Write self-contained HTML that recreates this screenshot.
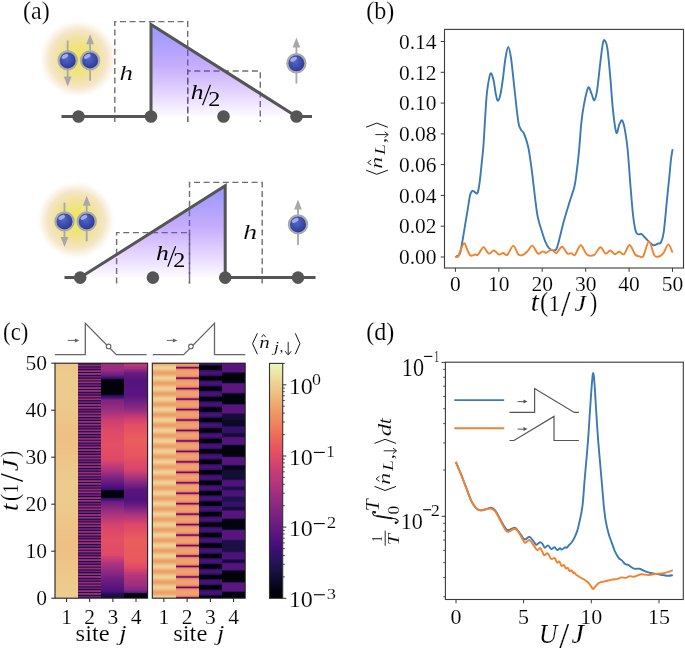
<!DOCTYPE html><html><head><meta charset="utf-8"><style>html,body{margin:0;padding:0;background:#fff;overflow:hidden}svg{display:block}text{font-family:"Liberation Serif",serif;font-kerning:none}.tk{stroke:#fff;stroke-width:0.15px}</style></head><body><svg style="will-change:transform" width="685" height="650" viewBox="0 0 685 650"><defs><radialGradient id="glow" cx="0.5" cy="0.5" r="0.5">
<stop offset="0" stop-color="#efe65a"/><stop offset="0.28" stop-color="#f0e476"/>
<stop offset="0.5" stop-color="#f1e29e"/><stop offset="0.72" stop-color="#f3e3c0" stop-opacity="0.9"/><stop offset="0.86" stop-color="#f7ecd8" stop-opacity="0.55"/><stop offset="1" stop-color="#ffffff" stop-opacity="0"/></radialGradient>
<radialGradient id="ball" cx="0.42" cy="0.38" r="0.62">
<stop offset="0" stop-color="#5468c8"/><stop offset="0.6" stop-color="#3a4aa9"/><stop offset="0.88" stop-color="#2f3d94"/><stop offset="1" stop-color="#27327a"/></radialGradient>
<linearGradient id="tri1" x1="0" y1="0" x2="0" y2="1">
<stop offset="0" stop-color="#8a8aff"/><stop offset="0.45" stop-color="#c0a4fb"/><stop offset="0.78" stop-color="#e6d6fd"/><stop offset="1" stop-color="#fdfbff"/></linearGradient>
<clipPath id="ctri1"><path d="M151,24.5 L296.5,116.5 L151,116.5 Z"/></clipPath>
<clipPath id="ctri2"><path d="M80.2,277.6 L225.2,185.8 L225.2,277.6 Z"/></clipPath>
</defs><rect width="685" height="650" fill="#fff"/><text transform="matrix(0.24071,0,0,0.25366,23.04,18.50)" font-size="100" fill="#000" style="stroke:#fff;stroke-width:0.61px">(a)</text>
<circle cx="78.3" cy="58.8" r="40" fill="url(#glow)"/>
<path d="M114.8,122 V21.6 H187.7 V122" fill="none" stroke="#6e6e6e" stroke-width="1.4" stroke-dasharray="6 3.6"/>
<path d="M187.7,122 V71 H260.3 V122" fill="none" stroke="#6e6e6e" stroke-width="1.4" stroke-dasharray="6 3.6"/>
<path d="M151,24.5 L296.5,116.5 L151,116.5 Z" fill="url(#tri1)" opacity="0.9"/>
<g clip-path="url(#ctri1)"><path d="M114.8,122 V21.6 H187.7 V122" fill="none"  stroke-width="1.4" stroke-dasharray="6 3.6" stroke="#5f5192" opacity="0.85"/><path d="M187.7,122 V71 H260.3 V122" fill="none"  stroke-width="1.4" stroke-dasharray="6 3.6" stroke="#5f5192" opacity="0.85"/></g>
<path d="M61.5,116.5 H151 M296.5,116.5 H312" stroke="#555" stroke-width="3"/>
<path d="M151,116.5 V24.5 L296.5,116.5" fill="none" stroke="#555" stroke-width="3" stroke-linejoin="miter"/>
<circle cx="78.5" cy="116.5" r="6.3" fill="#555"/>
<circle cx="151.0" cy="116.5" r="6.3" fill="#555"/>
<circle cx="223.5" cy="116.5" r="6.3" fill="#555"/>
<circle cx="296.5" cy="116.5" r="6.3" fill="#555"/>
<line x1="67.7" y1="40.5" x2="67.7" y2="78.6" stroke="#a8a8a8" stroke-width="1.8"/><path d="M67.7,86.6 L63.8,76.6 L71.6,76.6 Z" fill="#a8a8a8"/><circle cx="67.7" cy="60.4" r="9.1" fill="url(#ball)" stroke="#aaaaaa" stroke-width="2.2"/><ellipse cx="64.9" cy="56.4" rx="3.6" ry="1.9" fill="#aab6ec" opacity="0.9" transform="rotate(-28 64.9 56.4)"/>
<line x1="90.1" y1="80.7" x2="90.1" y2="42.2" stroke="#a8a8a8" stroke-width="1.8"/><path d="M90.1,34.2 L86.2,44.2 L94.0,44.2 Z" fill="#a8a8a8"/><circle cx="90.1" cy="60.4" r="9.1" fill="url(#ball)" stroke="#aaaaaa" stroke-width="2.2"/><ellipse cx="87.3" cy="56.4" rx="3.6" ry="1.9" fill="#aab6ec" opacity="0.9" transform="rotate(-28 87.3 56.4)"/>
<line x1="296.4" y1="83.6" x2="296.4" y2="45.4" stroke="#a8a8a8" stroke-width="1.8"/><path d="M296.4,37.4 L292.5,47.4 L300.3,47.4 Z" fill="#a8a8a8"/><circle cx="296.4" cy="63.3" r="9.1" fill="url(#ball)" stroke="#aaaaaa" stroke-width="2.2"/><ellipse cx="293.6" cy="59.3" rx="3.6" ry="1.9" fill="#aab6ec" opacity="0.9" transform="rotate(-28 293.6 59.3)"/>
<text transform="matrix(0.26991,0,0,0.21619,119.62,80.00)" font-size="100" font-style="italic" fill="#000" style="stroke:#fff;stroke-width:0.62px">h</text>
<text transform="matrix(0.25570,0,0,0.21763,190.78,98.90)" font-size="100" font-style="italic" fill="#000">h</text><line x1="202.6" y1="105.2" x2="210.4" y2="84.8" stroke="#000" stroke-width="1.15"/><text transform="matrix(0.24197,0,0,0.19936,208.14,105.70)" font-size="100" fill="#000">2</text>
<circle cx="76" cy="220.2" r="40" fill="url(#glow)"/>
<path d="M116.6,283.5 V232.6 H189.5 V283.5" fill="none" stroke="#6e6e6e" stroke-width="1.4" stroke-dasharray="6 3.6"/>
<path d="M189.5,283.5 V182.4 H262.2 V283.5" fill="none" stroke="#6e6e6e" stroke-width="1.4" stroke-dasharray="6 3.6"/>
<path d="M80.2,277.6 L225.2,185.8 L225.2,277.6 Z" fill="url(#tri1)" opacity="0.9"/>
<g clip-path="url(#ctri2)"><path d="M116.6,283.5 V232.6 H189.5 V283.5" fill="none"  stroke-width="1.4" stroke-dasharray="6 3.6" stroke="#5f5192" opacity="0.85"/><path d="M189.5,283.5 V182.4 H262.2 V283.5" fill="none"  stroke-width="1.4" stroke-dasharray="6 3.6" stroke="#5f5192" opacity="0.85"/></g>
<path d="M64.5,277.6 H80.2 M225.2,277.6 H315.5" stroke="#555" stroke-width="3"/>
<path d="M80.2,277.6 L225.2,185.8 V277.6" fill="none" stroke="#555" stroke-width="3" stroke-linejoin="miter"/>
<circle cx="80.2" cy="277.6" r="6.3" fill="#555"/>
<circle cx="152.9" cy="277.6" r="6.3" fill="#555"/>
<circle cx="225.2" cy="277.6" r="6.3" fill="#555"/>
<circle cx="298.0" cy="277.6" r="6.3" fill="#555"/>
<line x1="64.5" y1="202.7" x2="64.5" y2="239.0" stroke="#a8a8a8" stroke-width="1.8"/><path d="M64.5,247.0 L60.6,237.0 L68.4,237.0 Z" fill="#a8a8a8"/><circle cx="64.5" cy="221.4" r="9.1" fill="url(#ball)" stroke="#aaaaaa" stroke-width="2.2"/><ellipse cx="61.7" cy="217.4" rx="3.6" ry="1.9" fill="#aab6ec" opacity="0.9" transform="rotate(-28 61.7 217.4)"/>
<line x1="86.7" y1="241.3" x2="86.7" y2="203.7" stroke="#a8a8a8" stroke-width="1.8"/><path d="M86.7,195.7 L82.8,205.7 L90.6,205.7 Z" fill="#a8a8a8"/><circle cx="86.7" cy="221.4" r="9.1" fill="url(#ball)" stroke="#aaaaaa" stroke-width="2.2"/><ellipse cx="83.9" cy="217.4" rx="3.6" ry="1.9" fill="#aab6ec" opacity="0.9" transform="rotate(-28 83.9 217.4)"/>
<line x1="298.0" y1="244.9" x2="298.0" y2="207.4" stroke="#a8a8a8" stroke-width="1.8"/><path d="M298.0,199.4 L294.1,209.4 L301.9,209.4 Z" fill="#a8a8a8"/><circle cx="298.0" cy="224.4" r="9.1" fill="url(#ball)" stroke="#aaaaaa" stroke-width="2.2"/><ellipse cx="295.2" cy="220.4" rx="3.6" ry="1.9" fill="#aab6ec" opacity="0.9" transform="rotate(-28 295.2 220.4)"/>
<text transform="matrix(0.25570,0,0,0.21763,155.98,260.40)" font-size="100" font-style="italic" fill="#000">h</text><line x1="167.8" y1="266.7" x2="175.6" y2="246.3" stroke="#000" stroke-width="1.15"/><text transform="matrix(0.24197,0,0,0.19936,173.34,267.20)" font-size="100" fill="#000">2</text>
<text transform="matrix(0.28412,0,0,0.21474,242.97,238.80)" font-size="100" font-style="italic" fill="#000" style="stroke:#fff;stroke-width:0.61px">h</text>
<text transform="matrix(0.24116,0,0,0.25366,366.24,18.50)" font-size="100" fill="#000" style="stroke:#fff;stroke-width:0.61px">(b)</text>
<path d="M455.4,257.0 C455.9,256.8 457.5,256.2 458.3,255.5 C459.1,254.8 459.6,254.7 460.2,252.7 C460.8,250.7 461.2,247.8 462.0,243.5 C462.8,239.2 463.9,232.4 464.8,226.8 C465.7,221.2 466.7,215.4 467.6,210.2 C468.5,205.0 469.2,198.6 470.0,195.4 C470.8,192.2 471.5,191.2 472.5,190.8 C473.5,190.4 475.0,192.7 475.9,193.0 C476.8,193.3 477.1,194.4 477.7,192.7 C478.3,190.9 478.9,187.6 479.6,182.5 C480.3,177.4 481.2,168.4 481.8,162.2 C482.4,155.9 482.8,154.7 483.5,145.0 C484.2,135.3 485.3,113.8 486.0,103.9 C486.7,94.0 487.1,90.5 487.9,85.4 C488.7,80.3 489.7,74.3 490.6,73.4 C491.5,72.5 492.6,76.4 493.5,80.0 C494.4,83.6 495.2,91.5 496.0,95.0 C496.8,98.5 497.2,100.9 498.0,100.7 C498.8,100.5 499.7,97.8 500.5,94.0 C501.3,90.2 502.2,84.0 503.0,78.0 C503.8,72.0 504.6,63.2 505.5,58.0 C506.4,52.8 507.3,47.0 508.2,47.0 C509.1,47.0 509.9,50.7 511.0,58.0 C512.1,65.3 513.5,80.3 514.7,91.0 C515.9,101.7 517.3,115.8 518.4,122.3 C519.5,128.8 520.2,127.9 521.1,129.8 C522.0,131.7 522.8,131.1 523.9,133.5 C525.0,135.9 526.6,140.9 527.6,144.5 C528.6,148.1 528.8,149.7 529.6,154.8 C530.4,159.9 531.5,167.7 532.4,175.1 C533.3,182.5 534.3,192.0 535.2,199.1 C536.1,206.2 536.8,212.4 537.9,217.6 C539.0,222.8 540.4,226.5 541.6,230.5 C542.8,234.5 544.1,238.7 545.3,241.6 C546.5,244.5 547.6,246.6 549.0,248.1 C550.4,249.6 552.4,250.3 553.6,250.5 C554.8,250.7 555.5,250.8 556.4,249.0 C557.3,247.2 558.0,244.4 559.2,239.8 C560.4,235.2 562.1,227.5 563.8,221.3 C565.5,215.1 567.5,208.7 569.3,202.8 C571.1,197.0 573.3,191.4 574.5,186.2 C575.7,181.0 576.0,177.2 576.7,171.4 C577.5,165.6 578.2,159.3 579.0,151.1 C579.8,142.9 580.5,130.3 581.4,122.4 C582.2,114.5 583.0,109.7 584.1,103.9 C585.2,98.1 587.0,89.3 588.2,87.6 C589.4,85.9 590.5,91.6 591.5,93.7 C592.5,95.8 593.4,100.7 594.3,100.2 C595.2,99.8 596.1,96.5 597.0,91.0 C597.9,85.5 598.9,74.7 599.8,67.0 C600.7,59.3 601.8,49.3 602.6,44.8 C603.4,40.3 603.8,39.6 604.6,40.2 C605.4,40.8 606.5,42.5 607.4,48.5 C608.3,54.5 609.3,66.0 610.2,76.2 C611.1,86.4 611.9,100.0 612.9,109.4 C613.9,118.8 615.2,130.0 616.3,132.5 C617.4,135.0 618.4,126.2 619.4,124.2 C620.4,122.2 621.3,119.6 622.2,120.5 C623.1,121.4 624.0,124.9 624.9,129.8 C625.8,134.7 626.8,140.6 627.7,150.0 C628.6,159.4 629.6,175.5 630.5,186.2 C631.4,196.8 632.1,206.5 632.9,213.9 C633.7,221.3 634.7,227.1 635.5,230.5 C636.3,233.9 636.9,233.6 637.9,234.2 C638.9,234.8 640.4,233.6 641.6,234.2 C642.8,234.8 644.1,236.7 645.3,237.9 C646.5,239.1 647.6,240.4 649.0,241.6 C650.4,242.8 652.1,245.0 653.6,245.3 C655.1,245.6 657.0,244.0 658.2,243.5 C659.4,243.0 660.1,244.3 661.0,242.5 C661.9,240.7 662.8,238.7 663.7,232.4 C664.6,226.1 665.6,213.9 666.5,204.7 C667.4,195.5 668.5,184.7 669.3,177.0 C670.1,169.3 670.5,163.1 671.1,158.5 C671.7,153.9 672.4,150.8 672.6,149.2" fill="none" stroke="#3a7ab5" stroke-width="1.9" stroke-linejoin="round"/>
<path d="M455.4,257.0 C455.9,256.9 457.4,257.7 458.3,256.4 C459.2,255.1 460.0,251.2 461.0,249.0 C462.0,246.8 463.4,243.1 464.4,243.1 C465.4,243.1 466.0,246.9 467.0,249.0 C468.0,251.1 469.0,254.6 470.3,255.5 C471.6,256.4 473.8,254.6 475.0,254.5 C476.2,254.4 476.8,255.5 477.7,254.9 C478.6,254.3 479.5,252.2 480.5,250.9 C481.5,249.6 482.4,246.8 483.8,247.2 C485.2,247.6 487.1,253.0 488.8,253.6 C490.5,254.2 492.3,250.3 494.0,250.5 C495.7,250.7 497.5,254.1 499.0,254.5 C500.5,254.9 501.8,252.9 503.2,253.0 C504.6,253.1 505.6,256.1 507.3,254.9 C509.0,253.7 511.4,246.0 513.2,245.9 C515.1,245.8 516.8,253.0 518.4,254.5 C520.0,256.0 521.4,255.5 523.0,254.9 C524.6,254.3 526.2,252.4 527.8,250.9 C529.4,249.4 530.7,245.2 532.4,245.7 C534.1,246.1 536.2,252.6 537.9,253.6 C539.6,254.6 541.2,251.6 542.6,251.4 C544.0,251.2 544.7,253.0 546.2,252.7 C547.7,252.4 550.1,249.5 551.8,249.6 C553.5,249.7 554.7,253.6 556.4,253.1 C558.1,252.6 560.1,246.7 562.0,246.8 C563.9,246.9 566.0,252.6 567.5,253.6 C569.0,254.6 570.0,252.9 571.2,253.1 C572.4,253.3 573.3,256.2 574.9,254.9 C576.5,253.6 578.8,245.4 580.8,245.3 C582.8,245.2 584.6,252.9 586.9,254.5 C589.1,256.1 592.0,256.1 594.3,254.9 C596.5,253.7 598.5,247.4 600.4,247.2 C602.3,247.0 603.9,253.0 605.5,253.6 C607.1,254.2 608.7,250.4 610.2,250.5 C611.8,250.6 613.3,254.0 614.8,254.2 C616.3,254.4 617.9,251.8 619.4,251.8 C620.9,251.8 622.3,255.3 624.0,254.2 C625.7,253.1 627.8,244.9 629.6,245.0 C631.5,245.1 633.4,252.6 635.1,254.5 C636.8,256.4 638.3,256.1 639.7,256.4 C641.1,256.6 641.9,258.5 643.4,256.0 C644.9,253.5 647.1,241.7 649.0,241.6 C650.9,241.5 652.7,253.1 654.5,255.5 C656.3,257.9 658.5,256.5 660.0,256.0 C661.5,255.5 662.3,254.6 663.7,252.7 C665.1,250.8 666.9,244.4 668.4,244.4 C669.9,244.4 671.9,251.3 672.6,252.7" fill="none" stroke="#f5822a" stroke-width="1.9" stroke-linejoin="round"/>
<rect x="444.5" y="29.4" width="239.0" height="238.6" fill="none" stroke="#3a3a3a" stroke-width="1.1"/>
<line x1="440.7" y1="257.0" x2="444.5" y2="257.0" stroke="#3a3a3a" stroke-width="1"/>
<text x="436.5" y="264.2" font-size="21.5" text-anchor="end" class="tk">0.00</text>
<line x1="440.7" y1="226.2" x2="444.5" y2="226.2" stroke="#3a3a3a" stroke-width="1"/>
<text x="436.5" y="233.4" font-size="21.5" text-anchor="end" class="tk">0.02</text>
<line x1="440.7" y1="195.4" x2="444.5" y2="195.4" stroke="#3a3a3a" stroke-width="1"/>
<text x="436.5" y="202.6" font-size="21.5" text-anchor="end" class="tk">0.04</text>
<line x1="440.7" y1="164.6" x2="444.5" y2="164.6" stroke="#3a3a3a" stroke-width="1"/>
<text x="436.5" y="171.8" font-size="21.5" text-anchor="end" class="tk">0.06</text>
<line x1="440.7" y1="133.9" x2="444.5" y2="133.9" stroke="#3a3a3a" stroke-width="1"/>
<text x="436.5" y="141.1" font-size="21.5" text-anchor="end" class="tk">0.08</text>
<line x1="440.7" y1="103.1" x2="444.5" y2="103.1" stroke="#3a3a3a" stroke-width="1"/>
<text x="436.5" y="110.3" font-size="21.5" text-anchor="end" class="tk">0.10</text>
<line x1="440.7" y1="72.3" x2="444.5" y2="72.3" stroke="#3a3a3a" stroke-width="1"/>
<text x="436.5" y="79.5" font-size="21.5" text-anchor="end" class="tk">0.12</text>
<line x1="440.7" y1="41.5" x2="444.5" y2="41.5" stroke="#3a3a3a" stroke-width="1"/>
<text x="436.5" y="48.7" font-size="21.5" text-anchor="end" class="tk">0.14</text>
<line x1="455.4" y1="268.0" x2="455.4" y2="271.8" stroke="#3a3a3a" stroke-width="1"/>
<text x="455.4" y="291" font-size="21.5" text-anchor="middle" class="tk">0</text>
<line x1="498.8" y1="268.0" x2="498.8" y2="271.8" stroke="#3a3a3a" stroke-width="1"/>
<text x="498.8" y="291" font-size="21.5" text-anchor="middle" class="tk">10</text>
<line x1="542.2" y1="268.0" x2="542.2" y2="271.8" stroke="#3a3a3a" stroke-width="1"/>
<text x="542.2" y="291" font-size="21.5" text-anchor="middle" class="tk">20</text>
<line x1="585.7" y1="268.0" x2="585.7" y2="271.8" stroke="#3a3a3a" stroke-width="1"/>
<text x="585.7" y="291" font-size="21.5" text-anchor="middle" class="tk">30</text>
<line x1="629.1" y1="268.0" x2="629.1" y2="271.8" stroke="#3a3a3a" stroke-width="1"/>
<text x="629.1" y="291" font-size="21.5" text-anchor="middle" class="tk">40</text>
<line x1="672.5" y1="268.0" x2="672.5" y2="271.8" stroke="#3a3a3a" stroke-width="1"/>
<text x="672.5" y="291" font-size="21.5" text-anchor="middle" class="tk">50</text>
<text transform="matrix(0.29145,0,0,0.26538,530.72,311.24)" font-size="100" font-style="italic" fill="#000" style="stroke:#fff;stroke-width:0.54px">t</text>
<text transform="matrix(0.24529,0,0,0.27240,540.02,311.00)" font-size="100" fill="#000" style="stroke:#fff;stroke-width:0.58px">(</text>
<text transform="matrix(0.22440,0,0,0.23025,548.63,311.00)" font-size="100" fill="#000" style="stroke:#fff;stroke-width:0.66px">1</text>
<text transform="matrix(0.34193,0,0,0.36176,561.10,316.45)" font-size="100" fill="#000" style="stroke:#fff;stroke-width:0.43px">/</text>
<text transform="matrix(0.25867,0,0,0.23625,574.41,311.27)" font-size="100" font-style="italic" fill="#000" style="stroke:#fff;stroke-width:0.61px">J</text>
<text transform="matrix(0.22583,0,0,0.27240,589.77,311.00)" font-size="100" fill="#000" style="stroke:#fff;stroke-width:0.60px">)</text>
<polyline points="366.2,127.2 376.8,123.1 387.8,127.2" fill="none" stroke="#111" stroke-width="1.00" stroke-linejoin="miter"/><line x1="375.4" y1="134.6" x2="387.5" y2="134.6" stroke="#111" stroke-width="0.9"/><polyline points="384.6,131.8 388.3,134.6 384.6,137.4" fill="none" stroke="#111" stroke-width="0.90" stroke-linejoin="miter"/><text transform="matrix(0,-0.20144,0.17132,0,386.17,142.97)" font-size="100" fill="#000" style="stroke:#fff;stroke-width:0.81px">,</text><text transform="matrix(0,-0.19404,0.14203,0,385.10,154.67)" font-size="100" font-style="italic" fill="#000" style="stroke:#fff;stroke-width:0.90px">L</text><text transform="matrix(0,-0.23885,0.16554,0,381.80,168.65)" font-size="100" font-style="italic" fill="#000" style="stroke:#fff;stroke-width:0.75px">n</text><polyline points="371.2,160.0 367.7,162.6 371.2,165.1" fill="none" stroke="#111" stroke-width="0.90" stroke-linejoin="miter"/><polyline points="366.2,170.2 376.8,174.3 387.8,170.2" fill="none" stroke="#111" stroke-width="1.00" stroke-linejoin="miter"/>
<text transform="matrix(0.22799,0,0,0.25145,3.10,339.85)" font-size="100" fill="#000" style="stroke:#fff;stroke-width:0.63px">(c)</text>
<g shape-rendering="crispEdges">
<rect x="55.00" y="363.20" width="23.15" height="3.80" fill="#eec88a"/><rect x="55.00" y="367.00" width="23.15" height="6.00" fill="#edc98c"/><rect x="55.00" y="373.00" width="23.15" height="1.00" fill="#edca8c"/><rect x="55.00" y="374.00" width="23.15" height="26.00" fill="#edcb8e"/><rect x="55.00" y="400.00" width="23.15" height="1.00" fill="#edca8c"/><rect x="55.00" y="401.00" width="23.15" height="6.00" fill="#edc98c"/><rect x="55.00" y="407.00" width="23.15" height="5.00" fill="#eec88a"/><rect x="55.00" y="412.00" width="23.15" height="1.00" fill="#eec68a"/><rect x="55.00" y="413.00" width="23.15" height="5.00" fill="#eec689"/><rect x="55.00" y="418.00" width="23.15" height="6.00" fill="#eec487"/><rect x="55.00" y="424.00" width="23.15" height="9.00" fill="#eec286"/><rect x="55.00" y="433.00" width="23.15" height="13.00" fill="#eec084"/><rect x="55.00" y="446.00" width="23.15" height="9.00" fill="#eec286"/><rect x="55.00" y="455.00" width="23.15" height="6.00" fill="#eec487"/><rect x="55.00" y="461.00" width="23.15" height="5.00" fill="#eec689"/><rect x="55.00" y="466.00" width="23.15" height="1.00" fill="#eec68a"/><rect x="55.00" y="467.00" width="23.15" height="5.00" fill="#eec88a"/><rect x="55.00" y="472.00" width="23.15" height="6.00" fill="#edc98c"/><rect x="55.00" y="478.00" width="23.15" height="1.00" fill="#edca8c"/><rect x="55.00" y="479.00" width="23.15" height="26.00" fill="#edcb8e"/><rect x="55.00" y="505.00" width="23.15" height="1.00" fill="#edca8c"/><rect x="55.00" y="506.00" width="23.15" height="6.00" fill="#edc98c"/><rect x="55.00" y="512.00" width="23.15" height="5.00" fill="#eec88a"/><rect x="55.00" y="517.00" width="23.15" height="1.00" fill="#eec68a"/><rect x="55.00" y="518.00" width="23.15" height="5.00" fill="#eec689"/><rect x="55.00" y="523.00" width="23.15" height="6.00" fill="#eec487"/><rect x="55.00" y="529.00" width="23.15" height="9.00" fill="#eec286"/><rect x="55.00" y="538.00" width="23.15" height="13.00" fill="#eec084"/><rect x="55.00" y="551.00" width="23.15" height="9.00" fill="#eec286"/><rect x="55.00" y="560.00" width="23.15" height="6.00" fill="#eec487"/><rect x="55.00" y="566.00" width="23.15" height="5.00" fill="#eec689"/><rect x="55.00" y="571.00" width="23.15" height="1.00" fill="#eec68a"/><rect x="55.00" y="572.00" width="23.15" height="5.00" fill="#eec88a"/><rect x="55.00" y="577.00" width="23.15" height="6.00" fill="#edc98c"/><rect x="55.00" y="583.00" width="23.15" height="1.00" fill="#edca8c"/><rect x="55.00" y="584.00" width="23.15" height="14.20" fill="#edcb8e"/>
<rect x="78.15" y="363.20" width="23.15" height="1.80" fill="#541c55"/><rect x="78.15" y="365.00" width="23.15" height="1.00" fill="#992d80"/><rect x="78.15" y="366.00" width="23.15" height="1.00" fill="#48194e"/><rect x="78.15" y="367.00" width="23.15" height="1.00" fill="#4f1864"/><rect x="78.15" y="368.00" width="23.15" height="1.00" fill="#701f81"/><rect x="78.15" y="369.00" width="23.15" height="1.00" fill="#271040"/><rect x="78.15" y="370.00" width="23.15" height="1.00" fill="#822871"/><rect x="78.15" y="371.00" width="23.15" height="1.00" fill="#992d80"/><rect x="78.15" y="372.00" width="23.15" height="1.00" fill="#1a0e32"/><rect x="78.15" y="373.00" width="23.15" height="1.00" fill="#992d80"/><rect x="78.15" y="374.00" width="23.15" height="1.00" fill="#8e2a79"/><rect x="78.15" y="375.00" width="23.15" height="1.00" fill="#1f0e39"/><rect x="78.15" y="376.00" width="23.15" height="1.00" fill="#701f81"/><rect x="78.15" y="377.00" width="23.15" height="1.00" fill="#4f1864"/><rect x="78.15" y="378.00" width="23.15" height="1.00" fill="#3d1647"/><rect x="78.15" y="379.00" width="23.15" height="1.00" fill="#992d80"/><rect x="78.15" y="380.00" width="23.15" height="1.00" fill="#541c55"/><rect x="78.15" y="381.00" width="23.15" height="1.00" fill="#5f1f5c"/><rect x="78.15" y="382.00" width="23.15" height="1.00" fill="#992d80"/><rect x="78.15" y="383.00" width="23.15" height="1.00" fill="#3d1647"/><rect x="78.15" y="384.00" width="23.15" height="1.00" fill="#581a6c"/><rect x="78.15" y="385.00" width="23.15" height="1.00" fill="#701f81"/><rect x="78.15" y="386.00" width="23.15" height="1.00" fill="#1f0e39"/><rect x="78.15" y="387.00" width="23.15" height="1.00" fill="#8e2a79"/><rect x="78.15" y="388.00" width="23.15" height="1.00" fill="#992d80"/><rect x="78.15" y="389.00" width="23.15" height="1.00" fill="#1a0e32"/><rect x="78.15" y="390.00" width="23.15" height="1.00" fill="#992d80"/><rect x="78.15" y="391.00" width="23.15" height="1.00" fill="#822871"/><rect x="78.15" y="392.00" width="23.15" height="1.00" fill="#271040"/><rect x="78.15" y="393.00" width="23.15" height="1.00" fill="#701f81"/><rect x="78.15" y="394.00" width="23.15" height="1.00" fill="#47165d"/><rect x="78.15" y="395.00" width="23.15" height="1.00" fill="#48194e"/><rect x="78.15" y="396.00" width="23.15" height="1.00" fill="#992d80"/><rect x="78.15" y="397.00" width="23.15" height="1.00" fill="#48194e"/><rect x="78.15" y="398.00" width="23.15" height="1.00" fill="#6b2263"/><rect x="78.15" y="399.00" width="23.15" height="1.00" fill="#992d80"/><rect x="78.15" y="400.00" width="23.15" height="1.00" fill="#311340"/><rect x="78.15" y="401.00" width="23.15" height="1.00" fill="#601b73"/><rect x="78.15" y="402.00" width="23.15" height="1.00" fill="#701f81"/><rect x="78.15" y="403.00" width="23.15" height="1.00" fill="#170c32"/><rect x="78.15" y="404.00" width="23.15" height="1.00" fill="#992d80"/><rect x="78.15" y="405.00" width="23.15" height="1.00" fill="#8e2a79"/><rect x="78.15" y="406.00" width="23.15" height="1.00" fill="#261139"/><rect x="78.15" y="407.00" width="23.15" height="1.00" fill="#992d80"/><rect x="78.15" y="408.00" width="23.15" height="1.00" fill="#77256a"/><rect x="78.15" y="409.00" width="23.15" height="1.00" fill="#2f1148"/><rect x="78.15" y="410.00" width="23.15" height="1.00" fill="#701f81"/><rect x="78.15" y="411.00" width="23.15" height="1.00" fill="#3f1556"/><rect x="78.15" y="412.00" width="23.15" height="1.00" fill="#541c55"/><rect x="78.15" y="413.00" width="23.15" height="1.00" fill="#992d80"/><rect x="78.15" y="414.00" width="23.15" height="1.00" fill="#3d1647"/><rect x="78.15" y="415.00" width="23.15" height="1.00" fill="#77256a"/><rect x="78.15" y="416.00" width="23.15" height="1.00" fill="#992d80"/><rect x="78.15" y="417.00" width="23.15" height="1.00" fill="#261139"/><rect x="78.15" y="418.00" width="23.15" height="1.00" fill="#681d7a"/><rect x="78.15" y="419.00" width="23.15" height="1.00" fill="#701f81"/><rect x="78.15" y="420.00" width="23.15" height="1.00" fill="#1a0e32"/><rect x="78.15" y="421.00" width="23.15" height="1.00" fill="#992d80"/><rect x="78.15" y="422.00" width="23.15" height="1.00" fill="#822871"/><rect x="78.15" y="423.00" width="23.15" height="1.00" fill="#311340"/><rect x="78.15" y="424.00" width="23.15" height="1.00" fill="#992d80"/><rect x="78.15" y="425.00" width="23.15" height="1.00" fill="#6b2263"/><rect x="78.15" y="426.00" width="23.15" height="1.00" fill="#37134f"/><rect x="78.15" y="427.00" width="23.15" height="1.00" fill="#701f81"/><rect x="78.15" y="428.00" width="23.15" height="1.00" fill="#3f1556"/><rect x="78.15" y="429.00" width="23.15" height="1.00" fill="#5f1f5c"/><rect x="78.15" y="430.00" width="23.15" height="1.00" fill="#992d80"/><rect x="78.15" y="431.00" width="23.15" height="1.00" fill="#311340"/><rect x="78.15" y="432.00" width="23.15" height="1.00" fill="#77256a"/><rect x="78.15" y="433.00" width="23.15" height="1.00" fill="#992d80"/><rect x="78.15" y="434.00" width="23.15" height="1.00" fill="#1a0e32"/><rect x="78.15" y="435.00" width="23.15" height="1.00" fill="#701f81"/><rect x="78.15" y="436.00" width="23.15" height="1.00" fill="#681d7a"/><rect x="78.15" y="437.00" width="23.15" height="1.00" fill="#261139"/><rect x="78.15" y="438.00" width="23.15" height="1.00" fill="#992d80"/><rect x="78.15" y="439.00" width="23.15" height="1.00" fill="#77256a"/><rect x="78.15" y="440.00" width="23.15" height="1.00" fill="#3d1647"/><rect x="78.15" y="441.00" width="23.15" height="1.00" fill="#992d80"/><rect x="78.15" y="442.00" width="23.15" height="1.00" fill="#5f1f5c"/><rect x="78.15" y="443.00" width="23.15" height="1.00" fill="#3f1556"/><rect x="78.15" y="444.00" width="23.15" height="1.00" fill="#701f81"/><rect x="78.15" y="445.00" width="23.15" height="1.00" fill="#37134f"/><rect x="78.15" y="446.00" width="23.15" height="1.00" fill="#6b2263"/><rect x="78.15" y="447.00" width="23.15" height="1.00" fill="#992d80"/><rect x="78.15" y="448.00" width="23.15" height="1.00" fill="#261139"/><rect x="78.15" y="449.00" width="23.15" height="1.00" fill="#822871"/><rect x="78.15" y="450.00" width="23.15" height="1.00" fill="#992d80"/><rect x="78.15" y="451.00" width="23.15" height="1.00" fill="#170c32"/><rect x="78.15" y="452.00" width="23.15" height="1.00" fill="#701f81"/><rect x="78.15" y="453.00" width="23.15" height="1.00" fill="#601b73"/><rect x="78.15" y="454.00" width="23.15" height="1.00" fill="#311340"/><rect x="78.15" y="455.00" width="23.15" height="1.00" fill="#992d80"/><rect x="78.15" y="456.00" width="23.15" height="1.00" fill="#6b2263"/><rect x="78.15" y="457.00" width="23.15" height="1.00" fill="#48194e"/><rect x="78.15" y="458.00" width="23.15" height="1.00" fill="#992d80"/><rect x="78.15" y="459.00" width="23.15" height="1.00" fill="#541c55"/><rect x="78.15" y="460.00" width="23.15" height="1.00" fill="#47165d"/><rect x="78.15" y="461.00" width="23.15" height="1.00" fill="#701f81"/><rect x="78.15" y="462.00" width="23.15" height="1.00" fill="#2f1148"/><rect x="78.15" y="463.00" width="23.15" height="1.00" fill="#77256a"/><rect x="78.15" y="464.00" width="23.15" height="1.00" fill="#992d80"/><rect x="78.15" y="465.00" width="23.15" height="1.00" fill="#1a0e32"/><rect x="78.15" y="466.00" width="23.15" height="2.00" fill="#8e2a79"/><rect x="78.15" y="468.00" width="23.15" height="1.00" fill="#1f0e39"/><rect x="78.15" y="469.00" width="23.15" height="1.00" fill="#701f81"/><rect x="78.15" y="470.00" width="23.15" height="1.00" fill="#581a6c"/><rect x="78.15" y="471.00" width="23.15" height="1.00" fill="#3d1647"/><rect x="78.15" y="472.00" width="23.15" height="1.00" fill="#992d80"/><rect x="78.15" y="473.00" width="23.15" height="1.00" fill="#5f1f5c"/><rect x="78.15" y="474.00" width="23.15" height="1.00" fill="#541c55"/><rect x="78.15" y="475.00" width="23.15" height="1.00" fill="#992d80"/><rect x="78.15" y="476.00" width="23.15" height="1.00" fill="#48194e"/><rect x="78.15" y="477.00" width="23.15" height="1.00" fill="#4f1864"/><rect x="78.15" y="478.00" width="23.15" height="1.00" fill="#701f81"/><rect x="78.15" y="479.00" width="23.15" height="1.00" fill="#271040"/><rect x="78.15" y="480.00" width="23.15" height="1.00" fill="#822871"/><rect x="78.15" y="481.00" width="23.15" height="1.00" fill="#992d80"/><rect x="78.15" y="482.00" width="23.15" height="1.00" fill="#0e0b2b"/><rect x="78.15" y="483.00" width="23.15" height="1.00" fill="#992d80"/><rect x="78.15" y="484.00" width="23.15" height="1.00" fill="#822871"/><rect x="78.15" y="485.00" width="23.15" height="1.00" fill="#271040"/><rect x="78.15" y="486.00" width="23.15" height="1.00" fill="#701f81"/><rect x="78.15" y="487.00" width="23.15" height="1.00" fill="#4f1864"/><rect x="78.15" y="488.00" width="23.15" height="1.00" fill="#48194e"/><rect x="78.15" y="489.00" width="23.15" height="1.00" fill="#992d80"/><rect x="78.15" y="490.00" width="23.15" height="1.00" fill="#541c55"/><rect x="78.15" y="491.00" width="23.15" height="1.00" fill="#5f1f5c"/><rect x="78.15" y="492.00" width="23.15" height="1.00" fill="#992d80"/><rect x="78.15" y="493.00" width="23.15" height="1.00" fill="#3d1647"/><rect x="78.15" y="494.00" width="23.15" height="1.00" fill="#581a6c"/><rect x="78.15" y="495.00" width="23.15" height="1.00" fill="#701f81"/><rect x="78.15" y="496.00" width="23.15" height="1.00" fill="#1f0e39"/><rect x="78.15" y="497.00" width="23.15" height="1.00" fill="#8e2a79"/><rect x="78.15" y="498.00" width="23.15" height="1.00" fill="#992d80"/><rect x="78.15" y="499.00" width="23.15" height="1.00" fill="#1a0e32"/><rect x="78.15" y="500.00" width="23.15" height="1.00" fill="#992d80"/><rect x="78.15" y="501.00" width="23.15" height="1.00" fill="#77256a"/><rect x="78.15" y="502.00" width="23.15" height="1.00" fill="#271040"/><rect x="78.15" y="503.00" width="23.15" height="1.00" fill="#701f81"/><rect x="78.15" y="504.00" width="23.15" height="1.00" fill="#47165d"/><rect x="78.15" y="505.00" width="23.15" height="1.00" fill="#541c55"/><rect x="78.15" y="506.00" width="23.15" height="1.00" fill="#992d80"/><rect x="78.15" y="507.00" width="23.15" height="1.00" fill="#48194e"/><rect x="78.15" y="508.00" width="23.15" height="1.00" fill="#6b2263"/><rect x="78.15" y="509.00" width="23.15" height="1.00" fill="#992d80"/><rect x="78.15" y="510.00" width="23.15" height="1.00" fill="#311340"/><rect x="78.15" y="511.00" width="23.15" height="1.00" fill="#601b73"/><rect x="78.15" y="512.00" width="23.15" height="1.00" fill="#701f81"/><rect x="78.15" y="513.00" width="23.15" height="1.00" fill="#170c32"/><rect x="78.15" y="514.00" width="23.15" height="1.00" fill="#992d80"/><rect x="78.15" y="515.00" width="23.15" height="1.00" fill="#8e2a79"/><rect x="78.15" y="516.00" width="23.15" height="1.00" fill="#261139"/><rect x="78.15" y="517.00" width="23.15" height="1.00" fill="#992d80"/><rect x="78.15" y="518.00" width="23.15" height="1.00" fill="#6b2263"/><rect x="78.15" y="519.00" width="23.15" height="1.00" fill="#2f1148"/><rect x="78.15" y="520.00" width="23.15" height="1.00" fill="#701f81"/><rect x="78.15" y="521.00" width="23.15" height="1.00" fill="#3f1556"/><rect x="78.15" y="522.00" width="23.15" height="1.00" fill="#5f1f5c"/><rect x="78.15" y="523.00" width="23.15" height="1.00" fill="#992d80"/><rect x="78.15" y="524.00" width="23.15" height="1.00" fill="#3d1647"/><rect x="78.15" y="525.00" width="23.15" height="1.00" fill="#77256a"/><rect x="78.15" y="526.00" width="23.15" height="1.00" fill="#992d80"/><rect x="78.15" y="527.00" width="23.15" height="1.00" fill="#261139"/><rect x="78.15" y="528.00" width="23.15" height="1.00" fill="#681d7a"/><rect x="78.15" y="529.00" width="23.15" height="1.00" fill="#701f81"/><rect x="78.15" y="530.00" width="23.15" height="1.00" fill="#1a0e32"/><rect x="78.15" y="531.00" width="23.15" height="1.00" fill="#992d80"/><rect x="78.15" y="532.00" width="23.15" height="1.00" fill="#822871"/><rect x="78.15" y="533.00" width="23.15" height="1.00" fill="#311340"/><rect x="78.15" y="534.00" width="23.15" height="1.00" fill="#992d80"/><rect x="78.15" y="535.00" width="23.15" height="1.00" fill="#5f1f5c"/><rect x="78.15" y="536.00" width="23.15" height="1.00" fill="#37134f"/><rect x="78.15" y="537.00" width="23.15" height="1.00" fill="#701f81"/><rect x="78.15" y="538.00" width="23.15" height="1.00" fill="#37134f"/><rect x="78.15" y="539.00" width="23.15" height="1.00" fill="#6b2263"/><rect x="78.15" y="540.00" width="23.15" height="1.00" fill="#992d80"/><rect x="78.15" y="541.00" width="23.15" height="1.00" fill="#311340"/><rect x="78.15" y="542.00" width="23.15" height="1.00" fill="#822871"/><rect x="78.15" y="543.00" width="23.15" height="1.00" fill="#992d80"/><rect x="78.15" y="544.00" width="23.15" height="1.00" fill="#1a0e32"/><rect x="78.15" y="545.00" width="23.15" height="1.00" fill="#701f81"/><rect x="78.15" y="546.00" width="23.15" height="1.00" fill="#681d7a"/><rect x="78.15" y="547.00" width="23.15" height="1.00" fill="#261139"/><rect x="78.15" y="548.00" width="23.15" height="1.00" fill="#992d80"/><rect x="78.15" y="549.00" width="23.15" height="1.00" fill="#77256a"/><rect x="78.15" y="550.00" width="23.15" height="1.00" fill="#3d1647"/><rect x="78.15" y="551.00" width="23.15" height="1.00" fill="#992d80"/><rect x="78.15" y="552.00" width="23.15" height="1.00" fill="#541c55"/><rect x="78.15" y="553.00" width="23.15" height="1.00" fill="#3f1556"/><rect x="78.15" y="554.00" width="23.15" height="1.00" fill="#701f81"/><rect x="78.15" y="555.00" width="23.15" height="1.00" fill="#2f1148"/><rect x="78.15" y="556.00" width="23.15" height="1.00" fill="#77256a"/><rect x="78.15" y="557.00" width="23.15" height="1.00" fill="#992d80"/><rect x="78.15" y="558.00" width="23.15" height="1.00" fill="#261139"/><rect x="78.15" y="559.00" width="23.15" height="1.00" fill="#8e2a79"/><rect x="78.15" y="560.00" width="23.15" height="1.00" fill="#992d80"/><rect x="78.15" y="561.00" width="23.15" height="1.00" fill="#170c32"/><rect x="78.15" y="562.00" width="23.15" height="1.00" fill="#701f81"/><rect x="78.15" y="563.00" width="23.15" height="1.00" fill="#601b73"/><rect x="78.15" y="564.00" width="23.15" height="1.00" fill="#311340"/><rect x="78.15" y="565.00" width="23.15" height="1.00" fill="#992d80"/><rect x="78.15" y="566.00" width="23.15" height="1.00" fill="#6b2263"/><rect x="78.15" y="567.00" width="23.15" height="1.00" fill="#48194e"/><rect x="78.15" y="568.00" width="23.15" height="1.00" fill="#992d80"/><rect x="78.15" y="569.00" width="23.15" height="1.00" fill="#541c55"/><rect x="78.15" y="570.00" width="23.15" height="1.00" fill="#47165d"/><rect x="78.15" y="571.00" width="23.15" height="1.00" fill="#701f81"/><rect x="78.15" y="572.00" width="23.15" height="1.00" fill="#271040"/><rect x="78.15" y="573.00" width="23.15" height="1.00" fill="#77256a"/><rect x="78.15" y="574.00" width="23.15" height="1.00" fill="#992d80"/><rect x="78.15" y="575.00" width="23.15" height="1.00" fill="#1a0e32"/><rect x="78.15" y="576.00" width="23.15" height="1.00" fill="#992d80"/><rect x="78.15" y="577.00" width="23.15" height="1.00" fill="#8e2a79"/><rect x="78.15" y="578.00" width="23.15" height="1.00" fill="#1f0e39"/><rect x="78.15" y="579.00" width="23.15" height="1.00" fill="#701f81"/><rect x="78.15" y="580.00" width="23.15" height="1.00" fill="#581a6c"/><rect x="78.15" y="581.00" width="23.15" height="1.00" fill="#3d1647"/><rect x="78.15" y="582.00" width="23.15" height="1.00" fill="#992d80"/><rect x="78.15" y="583.00" width="23.15" height="1.00" fill="#5f1f5c"/><rect x="78.15" y="584.00" width="23.15" height="1.00" fill="#541c55"/><rect x="78.15" y="585.00" width="23.15" height="1.00" fill="#992d80"/><rect x="78.15" y="586.00" width="23.15" height="1.00" fill="#48194e"/><rect x="78.15" y="587.00" width="23.15" height="1.00" fill="#4f1864"/><rect x="78.15" y="588.00" width="23.15" height="1.00" fill="#701f81"/><rect x="78.15" y="589.00" width="23.15" height="1.00" fill="#1f0e39"/><rect x="78.15" y="590.00" width="23.15" height="1.00" fill="#822871"/><rect x="78.15" y="591.00" width="23.15" height="1.00" fill="#992d80"/><rect x="78.15" y="592.00" width="23.15" height="1.00" fill="#1a0e32"/><rect x="78.15" y="593.00" width="23.15" height="1.00" fill="#992d80"/><rect x="78.15" y="594.00" width="23.15" height="1.00" fill="#822871"/><rect x="78.15" y="595.00" width="23.15" height="1.00" fill="#271040"/><rect x="78.15" y="596.00" width="23.15" height="1.00" fill="#701f81"/><rect x="78.15" y="597.00" width="23.15" height="1.00" fill="#4f1864"/><rect x="78.15" y="598.00" width="23.15" height="0.20" fill="#0e0b2b"/>
<rect x="101.30" y="363.20" width="23.15" height="1.80" fill="#9c2e7f"/><rect x="101.30" y="365.00" width="23.15" height="2.00" fill="#9b2e7f"/><rect x="101.30" y="367.00" width="23.15" height="1.00" fill="#9a2e7f"/><rect x="101.30" y="368.00" width="23.15" height="2.00" fill="#992d80"/><rect x="101.30" y="370.00" width="23.15" height="1.00" fill="#952c80"/><rect x="101.30" y="371.00" width="23.15" height="1.00" fill="#8c2981"/><rect x="101.30" y="372.00" width="23.15" height="1.00" fill="#842681"/><rect x="101.30" y="373.00" width="23.15" height="1.00" fill="#7c2382"/><rect x="101.30" y="374.00" width="23.15" height="1.00" fill="#742081"/><rect x="101.30" y="375.00" width="23.15" height="1.00" fill="#681c80"/><rect x="101.30" y="376.00" width="23.15" height="1.00" fill="#59157e"/><rect x="101.30" y="377.00" width="23.15" height="1.00" fill="#491079"/><rect x="101.30" y="378.00" width="23.15" height="1.00" fill="#301060"/><rect x="101.30" y="379.00" width="23.15" height="1.00" fill="#060516"/><rect x="101.30" y="380.00" width="23.15" height="14.00" fill="#02020b"/><rect x="101.30" y="394.00" width="23.15" height="1.00" fill="#08061c"/><rect x="101.30" y="395.00" width="23.15" height="1.00" fill="#22114e"/><rect x="101.30" y="396.00" width="23.15" height="1.00" fill="#341069"/><rect x="101.30" y="397.00" width="23.15" height="1.00" fill="#471077"/><rect x="101.30" y="398.00" width="23.15" height="1.00" fill="#5b167e"/><rect x="101.30" y="399.00" width="23.15" height="1.00" fill="#711f81"/><rect x="101.30" y="400.00" width="23.15" height="1.00" fill="#7e2482"/><rect x="101.30" y="401.00" width="23.15" height="1.00" fill="#812581"/><rect x="101.30" y="402.00" width="23.15" height="1.00" fill="#842681"/><rect x="101.30" y="403.00" width="23.15" height="1.00" fill="#872781"/><rect x="101.30" y="404.00" width="23.15" height="1.00" fill="#8a2881"/><rect x="101.30" y="405.00" width="23.15" height="1.00" fill="#8e2a81"/><rect x="101.30" y="406.00" width="23.15" height="1.00" fill="#912b81"/><rect x="101.30" y="407.00" width="23.15" height="1.00" fill="#942c80"/><rect x="101.30" y="408.00" width="23.15" height="1.00" fill="#982d80"/><rect x="101.30" y="409.00" width="23.15" height="1.00" fill="#9b2e7f"/><rect x="101.30" y="410.00" width="23.15" height="1.00" fill="#9f2f7f"/><rect x="101.30" y="411.00" width="23.15" height="1.00" fill="#a4317e"/><rect x="101.30" y="412.00" width="23.15" height="1.00" fill="#a8327d"/><rect x="101.30" y="413.00" width="23.15" height="1.00" fill="#ad347c"/><rect x="101.30" y="414.00" width="23.15" height="1.00" fill="#b1357b"/><rect x="101.30" y="415.00" width="23.15" height="1.00" fill="#b63779"/><rect x="101.30" y="416.00" width="23.15" height="1.00" fill="#bb3878"/><rect x="101.30" y="417.00" width="23.15" height="1.00" fill="#bf3a76"/><rect x="101.30" y="418.00" width="23.15" height="1.00" fill="#c43c75"/><rect x="101.30" y="419.00" width="23.15" height="1.00" fill="#c83e73"/><rect x="101.30" y="420.00" width="23.15" height="1.00" fill="#cc3f71"/><rect x="101.30" y="421.00" width="23.15" height="1.00" fill="#ce4071"/><rect x="101.30" y="422.00" width="23.15" height="1.00" fill="#d04170"/><rect x="101.30" y="423.00" width="23.15" height="1.00" fill="#d1426f"/><rect x="101.30" y="424.00" width="23.15" height="1.00" fill="#d3436e"/><rect x="101.30" y="425.00" width="23.15" height="1.00" fill="#d5446d"/><rect x="101.30" y="426.00" width="23.15" height="1.00" fill="#d7456c"/><rect x="101.30" y="427.00" width="23.15" height="1.00" fill="#d9466b"/><rect x="101.30" y="428.00" width="23.15" height="1.00" fill="#db486a"/><rect x="101.30" y="429.00" width="23.15" height="1.00" fill="#dd4969"/><rect x="101.30" y="430.00" width="23.15" height="1.00" fill="#dd4968"/><rect x="101.30" y="431.00" width="23.15" height="3.00" fill="#df4a68"/><rect x="101.30" y="434.00" width="23.15" height="3.00" fill="#e04b67"/><rect x="101.30" y="437.00" width="23.15" height="3.00" fill="#e14d66"/><rect x="101.30" y="440.00" width="23.15" height="3.00" fill="#e24e65"/><rect x="101.30" y="443.00" width="23.15" height="4.00" fill="#e34f64"/><rect x="101.30" y="447.00" width="23.15" height="3.00" fill="#e24e65"/><rect x="101.30" y="450.00" width="23.15" height="3.00" fill="#e14d66"/><rect x="101.30" y="453.00" width="23.15" height="3.00" fill="#e04b67"/><rect x="101.30" y="456.00" width="23.15" height="3.00" fill="#df4a68"/><rect x="101.30" y="459.00" width="23.15" height="1.00" fill="#dd4968"/><rect x="101.30" y="460.00" width="23.15" height="1.00" fill="#db486a"/><rect x="101.30" y="461.00" width="23.15" height="1.00" fill="#d7456c"/><rect x="101.30" y="462.00" width="23.15" height="1.00" fill="#d3426e"/><rect x="101.30" y="463.00" width="23.15" height="1.00" fill="#ce4070"/><rect x="101.30" y="464.00" width="23.15" height="1.00" fill="#c93e73"/><rect x="101.30" y="465.00" width="23.15" height="1.00" fill="#c43c75"/><rect x="101.30" y="466.00" width="23.15" height="1.00" fill="#bf3a76"/><rect x="101.30" y="467.00" width="23.15" height="1.00" fill="#ba3878"/><rect x="101.30" y="468.00" width="23.15" height="1.00" fill="#b5367a"/><rect x="101.30" y="469.00" width="23.15" height="1.00" fill="#b0357b"/><rect x="101.30" y="470.00" width="23.15" height="1.00" fill="#aa337c"/><rect x="101.30" y="471.00" width="23.15" height="1.00" fill="#a4317e"/><rect x="101.30" y="472.00" width="23.15" height="1.00" fill="#9e2f7f"/><rect x="101.30" y="473.00" width="23.15" height="1.00" fill="#972d80"/><rect x="101.30" y="474.00" width="23.15" height="1.00" fill="#912b81"/><rect x="101.30" y="475.00" width="23.15" height="1.00" fill="#8b2981"/><rect x="101.30" y="476.00" width="23.15" height="1.00" fill="#852781"/><rect x="101.30" y="477.00" width="23.15" height="1.00" fill="#7f2482"/><rect x="101.30" y="478.00" width="23.15" height="1.00" fill="#792282"/><rect x="101.30" y="479.00" width="23.15" height="1.00" fill="#742081"/><rect x="101.30" y="480.00" width="23.15" height="1.00" fill="#6f1e81"/><rect x="101.30" y="481.00" width="23.15" height="1.00" fill="#6a1c81"/><rect x="101.30" y="482.00" width="23.15" height="1.00" fill="#651a80"/><rect x="101.30" y="483.00" width="23.15" height="1.00" fill="#60187f"/><rect x="101.30" y="484.00" width="23.15" height="1.00" fill="#5b167e"/><rect x="101.30" y="485.00" width="23.15" height="1.00" fill="#55147d"/><rect x="101.30" y="486.00" width="23.15" height="1.00" fill="#4f127b"/><rect x="101.30" y="487.00" width="23.15" height="1.00" fill="#481078"/><rect x="101.30" y="488.00" width="23.15" height="1.00" fill="#420f75"/><rect x="101.30" y="489.00" width="23.15" height="1.00" fill="#37106a"/><rect x="101.30" y="490.00" width="23.15" height="1.00" fill="#0d0925"/><rect x="101.30" y="491.00" width="23.15" height="6.00" fill="#02020b"/><rect x="101.30" y="497.00" width="23.15" height="1.00" fill="#0b0822"/><rect x="101.30" y="498.00" width="23.15" height="1.00" fill="#2f1062"/><rect x="101.30" y="499.00" width="23.15" height="1.00" fill="#431075"/><rect x="101.30" y="500.00" width="23.15" height="1.00" fill="#54137d"/><rect x="101.30" y="501.00" width="23.15" height="1.00" fill="#641a80"/><rect x="101.30" y="502.00" width="23.15" height="1.00" fill="#6f1e81"/><rect x="101.30" y="503.00" width="23.15" height="1.00" fill="#742081"/><rect x="101.30" y="504.00" width="23.15" height="1.00" fill="#792282"/><rect x="101.30" y="505.00" width="23.15" height="1.00" fill="#7e2482"/><rect x="101.30" y="506.00" width="23.15" height="1.00" fill="#832681"/><rect x="101.30" y="507.00" width="23.15" height="1.00" fill="#892881"/><rect x="101.30" y="508.00" width="23.15" height="1.00" fill="#8e2a81"/><rect x="101.30" y="509.00" width="23.15" height="1.00" fill="#932b80"/><rect x="101.30" y="510.00" width="23.15" height="1.00" fill="#992d80"/><rect x="101.30" y="511.00" width="23.15" height="1.00" fill="#9e2f7f"/><rect x="101.30" y="512.00" width="23.15" height="1.00" fill="#a3307e"/><rect x="101.30" y="513.00" width="23.15" height="1.00" fill="#a7327d"/><rect x="101.30" y="514.00" width="23.15" height="1.00" fill="#ab337c"/><rect x="101.30" y="515.00" width="23.15" height="1.00" fill="#b0347b"/><rect x="101.30" y="516.00" width="23.15" height="1.00" fill="#b4367a"/><rect x="101.30" y="517.00" width="23.15" height="1.00" fill="#b83779"/><rect x="101.30" y="518.00" width="23.15" height="1.00" fill="#bc3977"/><rect x="101.30" y="519.00" width="23.15" height="1.00" fill="#c03a76"/><rect x="101.30" y="520.00" width="23.15" height="1.00" fill="#c43c74"/><rect x="101.30" y="521.00" width="23.15" height="1.00" fill="#c83e73"/><rect x="101.30" y="522.00" width="23.15" height="1.00" fill="#cd3f71"/><rect x="101.30" y="523.00" width="23.15" height="1.00" fill="#d0416f"/><rect x="101.30" y="524.00" width="23.15" height="1.00" fill="#d4446d"/><rect x="101.30" y="525.00" width="23.15" height="1.00" fill="#d7456c"/><rect x="101.30" y="526.00" width="23.15" height="1.00" fill="#d8456c"/><rect x="101.30" y="527.00" width="23.15" height="1.00" fill="#d9466b"/><rect x="101.30" y="528.00" width="23.15" height="1.00" fill="#da476a"/><rect x="101.30" y="529.00" width="23.15" height="1.00" fill="#db476a"/><rect x="101.30" y="530.00" width="23.15" height="1.00" fill="#dc4869"/><rect x="101.30" y="531.00" width="23.15" height="1.00" fill="#dd4969"/><rect x="101.30" y="532.00" width="23.15" height="1.00" fill="#de4968"/><rect x="101.30" y="533.00" width="23.15" height="1.00" fill="#df4a68"/><rect x="101.30" y="534.00" width="23.15" height="1.00" fill="#df4b67"/><rect x="101.30" y="535.00" width="23.15" height="1.00" fill="#e04b67"/><rect x="101.30" y="536.00" width="23.15" height="1.00" fill="#e14d66"/><rect x="101.30" y="537.00" width="23.15" height="1.00" fill="#e14d65"/><rect x="101.30" y="538.00" width="23.15" height="1.00" fill="#e24e65"/><rect x="101.30" y="539.00" width="23.15" height="3.00" fill="#e34f64"/><rect x="101.30" y="542.00" width="23.15" height="3.00" fill="#e24e65"/><rect x="101.30" y="545.00" width="23.15" height="3.00" fill="#e14d66"/><rect x="101.30" y="548.00" width="23.15" height="3.00" fill="#e04b67"/><rect x="101.30" y="551.00" width="23.15" height="3.00" fill="#df4a68"/><rect x="101.30" y="554.00" width="23.15" height="1.00" fill="#dd4968"/><rect x="101.30" y="555.00" width="23.15" height="1.00" fill="#db486a"/><rect x="101.30" y="556.00" width="23.15" height="1.00" fill="#d6446d"/><rect x="101.30" y="557.00" width="23.15" height="1.00" fill="#d0416f"/><rect x="101.30" y="558.00" width="23.15" height="1.00" fill="#cb3f72"/><rect x="101.30" y="559.00" width="23.15" height="1.00" fill="#c53c74"/><rect x="101.30" y="560.00" width="23.15" height="1.00" fill="#bf3a77"/><rect x="101.30" y="561.00" width="23.15" height="1.00" fill="#b93879"/><rect x="101.30" y="562.00" width="23.15" height="1.00" fill="#b4367a"/><rect x="101.30" y="563.00" width="23.15" height="1.00" fill="#b0347b"/><rect x="101.30" y="564.00" width="23.15" height="1.00" fill="#ab337c"/><rect x="101.30" y="565.00" width="23.15" height="1.00" fill="#a7327d"/><rect x="101.30" y="566.00" width="23.15" height="1.00" fill="#a3307e"/><rect x="101.30" y="567.00" width="23.15" height="1.00" fill="#9f2f7f"/><rect x="101.30" y="568.00" width="23.15" height="1.00" fill="#9b2e7f"/><rect x="101.30" y="569.00" width="23.15" height="1.00" fill="#962c80"/><rect x="101.30" y="570.00" width="23.15" height="1.00" fill="#922b80"/><rect x="101.30" y="571.00" width="23.15" height="1.00" fill="#8e2a81"/><rect x="101.30" y="572.00" width="23.15" height="1.00" fill="#8a2881"/><rect x="101.30" y="573.00" width="23.15" height="1.00" fill="#862781"/><rect x="101.30" y="574.00" width="23.15" height="1.00" fill="#822681"/><rect x="101.30" y="575.00" width="23.15" height="1.00" fill="#7e2482"/><rect x="101.30" y="576.00" width="23.15" height="1.00" fill="#7a2382"/><rect x="101.30" y="577.00" width="23.15" height="1.00" fill="#762181"/><rect x="101.30" y="578.00" width="23.15" height="1.00" fill="#721f81"/><rect x="101.30" y="579.00" width="23.15" height="1.00" fill="#6e1e81"/><rect x="101.30" y="580.00" width="23.15" height="1.00" fill="#6b1c81"/><rect x="101.30" y="581.00" width="23.15" height="1.00" fill="#681b81"/><rect x="101.30" y="582.00" width="23.15" height="1.00" fill="#651a80"/><rect x="101.30" y="583.00" width="23.15" height="1.00" fill="#631980"/><rect x="101.30" y="584.00" width="23.15" height="1.00" fill="#60187f"/><rect x="101.30" y="585.00" width="23.15" height="1.00" fill="#5d177f"/><rect x="101.30" y="586.00" width="23.15" height="1.00" fill="#5b167e"/><rect x="101.30" y="587.00" width="23.15" height="1.00" fill="#58157e"/><rect x="101.30" y="588.00" width="23.15" height="1.00" fill="#55147d"/><rect x="101.30" y="589.00" width="23.15" height="1.00" fill="#51127c"/><rect x="101.30" y="590.00" width="23.15" height="1.00" fill="#4c117a"/><rect x="101.30" y="591.00" width="23.15" height="1.00" fill="#461077"/><rect x="101.30" y="592.00" width="23.15" height="1.00" fill="#3a106e"/><rect x="101.30" y="593.00" width="23.15" height="1.00" fill="#261156"/><rect x="101.30" y="594.00" width="23.15" height="1.00" fill="#1d1146"/><rect x="101.30" y="595.00" width="23.15" height="1.00" fill="#1a1042"/><rect x="101.30" y="596.00" width="23.15" height="1.00" fill="#180f3d"/><rect x="101.30" y="597.00" width="23.15" height="1.00" fill="#150e38"/><rect x="101.30" y="598.00" width="23.15" height="0.20" fill="#140e36"/>
<rect x="124.45" y="363.20" width="23.15" height="0.80" fill="#ca3e72"/><rect x="124.45" y="364.00" width="23.15" height="1.00" fill="#c23b75"/><rect x="124.45" y="365.00" width="23.15" height="1.00" fill="#ba3878"/><rect x="124.45" y="366.00" width="23.15" height="1.00" fill="#b2357b"/><rect x="124.45" y="367.00" width="23.15" height="1.00" fill="#a9327d"/><rect x="124.45" y="368.00" width="23.15" height="1.00" fill="#9f2f7f"/><rect x="124.45" y="369.00" width="23.15" height="1.00" fill="#922b80"/><rect x="124.45" y="370.00" width="23.15" height="1.00" fill="#862781"/><rect x="124.45" y="371.00" width="23.15" height="1.00" fill="#7a2382"/><rect x="124.45" y="372.00" width="23.15" height="1.00" fill="#6e1e81"/><rect x="124.45" y="373.00" width="23.15" height="1.00" fill="#671b80"/><rect x="124.45" y="374.00" width="23.15" height="1.00" fill="#641a80"/><rect x="124.45" y="375.00" width="23.15" height="1.00" fill="#611980"/><rect x="124.45" y="376.00" width="23.15" height="1.00" fill="#5e177f"/><rect x="124.45" y="377.00" width="23.15" height="1.00" fill="#5b167f"/><rect x="124.45" y="378.00" width="23.15" height="1.00" fill="#58157e"/><rect x="124.45" y="379.00" width="23.15" height="1.00" fill="#56147d"/><rect x="124.45" y="380.00" width="23.15" height="2.00" fill="#54137d"/><rect x="124.45" y="382.00" width="23.15" height="1.00" fill="#55147d"/><rect x="124.45" y="383.00" width="23.15" height="6.00" fill="#56147d"/><rect x="124.45" y="389.00" width="23.15" height="5.00" fill="#57157e"/><rect x="124.45" y="394.00" width="23.15" height="1.00" fill="#58157e"/><rect x="124.45" y="395.00" width="23.15" height="1.00" fill="#5a167e"/><rect x="124.45" y="396.00" width="23.15" height="1.00" fill="#5d177f"/><rect x="124.45" y="397.00" width="23.15" height="1.00" fill="#611880"/><rect x="124.45" y="398.00" width="23.15" height="1.00" fill="#641a80"/><rect x="124.45" y="399.00" width="23.15" height="1.00" fill="#671b80"/><rect x="124.45" y="400.00" width="23.15" height="1.00" fill="#6b1d81"/><rect x="124.45" y="401.00" width="23.15" height="1.00" fill="#6e1e81"/><rect x="124.45" y="402.00" width="23.15" height="1.00" fill="#722081"/><rect x="124.45" y="403.00" width="23.15" height="1.00" fill="#772181"/><rect x="124.45" y="404.00" width="23.15" height="1.00" fill="#7b2382"/><rect x="124.45" y="405.00" width="23.15" height="1.00" fill="#802582"/><rect x="124.45" y="406.00" width="23.15" height="1.00" fill="#842681"/><rect x="124.45" y="407.00" width="23.15" height="1.00" fill="#892881"/><rect x="124.45" y="408.00" width="23.15" height="1.00" fill="#8e2981"/><rect x="124.45" y="409.00" width="23.15" height="1.00" fill="#922b80"/><rect x="124.45" y="410.00" width="23.15" height="1.00" fill="#982d80"/><rect x="124.45" y="411.00" width="23.15" height="1.00" fill="#9e2f7f"/><rect x="124.45" y="412.00" width="23.15" height="1.00" fill="#a5317e"/><rect x="124.45" y="413.00" width="23.15" height="1.00" fill="#ac337c"/><rect x="124.45" y="414.00" width="23.15" height="1.00" fill="#b3367a"/><rect x="124.45" y="415.00" width="23.15" height="1.00" fill="#ba3878"/><rect x="124.45" y="416.00" width="23.15" height="1.00" fill="#c13a76"/><rect x="124.45" y="417.00" width="23.15" height="1.00" fill="#c73d73"/><rect x="124.45" y="418.00" width="23.15" height="1.00" fill="#cd3f71"/><rect x="124.45" y="419.00" width="23.15" height="1.00" fill="#d0416f"/><rect x="124.45" y="420.00" width="23.15" height="1.00" fill="#d4446d"/><rect x="124.45" y="421.00" width="23.15" height="1.00" fill="#d8466b"/><rect x="124.45" y="422.00" width="23.15" height="1.00" fill="#dc4869"/><rect x="124.45" y="423.00" width="23.15" height="1.00" fill="#df4b67"/><rect x="124.45" y="424.00" width="23.15" height="1.00" fill="#e24e65"/><rect x="124.45" y="425.00" width="23.15" height="1.00" fill="#e35064"/><rect x="124.45" y="426.00" width="23.15" height="1.00" fill="#e45063"/><rect x="124.45" y="427.00" width="23.15" height="1.00" fill="#e55163"/><rect x="124.45" y="428.00" width="23.15" height="1.00" fill="#e55262"/><rect x="124.45" y="429.00" width="23.15" height="1.00" fill="#e65362"/><rect x="124.45" y="430.00" width="23.15" height="1.00" fill="#e65461"/><rect x="124.45" y="431.00" width="23.15" height="1.00" fill="#e75561"/><rect x="124.45" y="432.00" width="23.15" height="1.00" fill="#e75660"/><rect x="124.45" y="433.00" width="23.15" height="1.00" fill="#e85760"/><rect x="124.45" y="434.00" width="23.15" height="1.00" fill="#e8585f"/><rect x="124.45" y="435.00" width="23.15" height="1.00" fill="#e9595f"/><rect x="124.45" y="436.00" width="23.15" height="1.00" fill="#e9595e"/><rect x="124.45" y="437.00" width="23.15" height="1.00" fill="#ea5b5e"/><rect x="124.45" y="438.00" width="23.15" height="1.00" fill="#ea5c5d"/><rect x="124.45" y="439.00" width="23.15" height="3.00" fill="#ea5d5d"/><rect x="124.45" y="442.00" width="23.15" height="1.00" fill="#ea5c5d"/><rect x="124.45" y="443.00" width="23.15" height="3.00" fill="#ea5b5e"/><rect x="124.45" y="446.00" width="23.15" height="2.00" fill="#e9595e"/><rect x="124.45" y="448.00" width="23.15" height="1.00" fill="#e9595f"/><rect x="124.45" y="449.00" width="23.15" height="1.00" fill="#e8585f"/><rect x="124.45" y="450.00" width="23.15" height="1.00" fill="#e9585f"/><rect x="124.45" y="451.00" width="23.15" height="1.00" fill="#e8575f"/><rect x="124.45" y="452.00" width="23.15" height="2.00" fill="#e85760"/><rect x="124.45" y="454.00" width="23.15" height="1.00" fill="#e75660"/><rect x="124.45" y="455.00" width="23.15" height="1.00" fill="#e75560"/><rect x="124.45" y="456.00" width="23.15" height="1.00" fill="#e65461"/><rect x="124.45" y="457.00" width="23.15" height="1.00" fill="#e55262"/><rect x="124.45" y="458.00" width="23.15" height="1.00" fill="#e45163"/><rect x="124.45" y="459.00" width="23.15" height="1.00" fill="#e35064"/><rect x="124.45" y="460.00" width="23.15" height="1.00" fill="#e24e64"/><rect x="124.45" y="461.00" width="23.15" height="1.00" fill="#e14d65"/><rect x="124.45" y="462.00" width="23.15" height="1.00" fill="#e04c66"/><rect x="124.45" y="463.00" width="23.15" height="1.00" fill="#df4b67"/><rect x="124.45" y="464.00" width="23.15" height="1.00" fill="#de4a68"/><rect x="124.45" y="465.00" width="23.15" height="1.00" fill="#dd4969"/><rect x="124.45" y="466.00" width="23.15" height="1.00" fill="#dc4869"/><rect x="124.45" y="467.00" width="23.15" height="1.00" fill="#da476a"/><rect x="124.45" y="468.00" width="23.15" height="1.00" fill="#d9466b"/><rect x="124.45" y="469.00" width="23.15" height="1.00" fill="#d7456c"/><rect x="124.45" y="470.00" width="23.15" height="1.00" fill="#d4436e"/><rect x="124.45" y="471.00" width="23.15" height="1.00" fill="#cd4071"/><rect x="124.45" y="472.00" width="23.15" height="1.00" fill="#c83d73"/><rect x="124.45" y="473.00" width="23.15" height="1.00" fill="#c13b76"/><rect x="124.45" y="474.00" width="23.15" height="1.00" fill="#bb3878"/><rect x="124.45" y="475.00" width="23.15" height="1.00" fill="#b5367a"/><rect x="124.45" y="476.00" width="23.15" height="1.00" fill="#af347b"/><rect x="124.45" y="477.00" width="23.15" height="1.00" fill="#a8327d"/><rect x="124.45" y="478.00" width="23.15" height="1.00" fill="#a2307e"/><rect x="124.45" y="479.00" width="23.15" height="1.00" fill="#9b2e7f"/><rect x="124.45" y="480.00" width="23.15" height="1.00" fill="#942c80"/><rect x="124.45" y="481.00" width="23.15" height="1.00" fill="#8d2981"/><rect x="124.45" y="482.00" width="23.15" height="1.00" fill="#862781"/><rect x="124.45" y="483.00" width="23.15" height="1.00" fill="#7f2582"/><rect x="124.45" y="484.00" width="23.15" height="1.00" fill="#792282"/><rect x="124.45" y="485.00" width="23.15" height="1.00" fill="#732081"/><rect x="124.45" y="486.00" width="23.15" height="1.00" fill="#6d1e81"/><rect x="124.45" y="487.00" width="23.15" height="1.00" fill="#671b80"/><rect x="124.45" y="488.00" width="23.15" height="1.00" fill="#611980"/><rect x="124.45" y="489.00" width="23.15" height="1.00" fill="#5b167f"/><rect x="124.45" y="490.00" width="23.15" height="2.00" fill="#57157e"/><rect x="124.45" y="492.00" width="23.15" height="2.00" fill="#56147d"/><rect x="124.45" y="494.00" width="23.15" height="2.00" fill="#54137d"/><rect x="124.45" y="496.00" width="23.15" height="2.00" fill="#52137c"/><rect x="124.45" y="498.00" width="23.15" height="2.00" fill="#51127c"/><rect x="124.45" y="500.00" width="23.15" height="1.00" fill="#52137c"/><rect x="124.45" y="501.00" width="23.15" height="1.00" fill="#57157e"/><rect x="124.45" y="502.00" width="23.15" height="1.00" fill="#5c167f"/><rect x="124.45" y="503.00" width="23.15" height="1.00" fill="#601880"/><rect x="124.45" y="504.00" width="23.15" height="1.00" fill="#651a80"/><rect x="124.45" y="505.00" width="23.15" height="1.00" fill="#6a1c81"/><rect x="124.45" y="506.00" width="23.15" height="1.00" fill="#701f81"/><rect x="124.45" y="507.00" width="23.15" height="1.00" fill="#772181"/><rect x="124.45" y="508.00" width="23.15" height="1.00" fill="#7e2482"/><rect x="124.45" y="509.00" width="23.15" height="1.00" fill="#852781"/><rect x="124.45" y="510.00" width="23.15" height="1.00" fill="#8c2981"/><rect x="124.45" y="511.00" width="23.15" height="1.00" fill="#942b80"/><rect x="124.45" y="512.00" width="23.15" height="1.00" fill="#9b2e7f"/><rect x="124.45" y="513.00" width="23.15" height="1.00" fill="#a2307e"/><rect x="124.45" y="514.00" width="23.15" height="1.00" fill="#aa337d"/><rect x="124.45" y="515.00" width="23.15" height="1.00" fill="#b0357b"/><rect x="124.45" y="516.00" width="23.15" height="1.00" fill="#b5367a"/><rect x="124.45" y="517.00" width="23.15" height="1.00" fill="#ba3878"/><rect x="124.45" y="518.00" width="23.15" height="1.00" fill="#bf3a76"/><rect x="124.45" y="519.00" width="23.15" height="1.00" fill="#c43c75"/><rect x="124.45" y="520.00" width="23.15" height="1.00" fill="#c93e73"/><rect x="124.45" y="521.00" width="23.15" height="1.00" fill="#ce4070"/><rect x="124.45" y="522.00" width="23.15" height="1.00" fill="#d3426e"/><rect x="124.45" y="523.00" width="23.15" height="1.00" fill="#d7456c"/><rect x="124.45" y="524.00" width="23.15" height="1.00" fill="#db486a"/><rect x="124.45" y="525.00" width="23.15" height="1.00" fill="#de4a68"/><rect x="124.45" y="526.00" width="23.15" height="1.00" fill="#df4b67"/><rect x="124.45" y="527.00" width="23.15" height="1.00" fill="#e04c66"/><rect x="124.45" y="528.00" width="23.15" height="1.00" fill="#e14d65"/><rect x="124.45" y="529.00" width="23.15" height="1.00" fill="#e24e64"/><rect x="124.45" y="530.00" width="23.15" height="1.00" fill="#e35064"/><rect x="124.45" y="531.00" width="23.15" height="1.00" fill="#e45163"/><rect x="124.45" y="532.00" width="23.15" height="1.00" fill="#e55262"/><rect x="124.45" y="533.00" width="23.15" height="1.00" fill="#e65461"/><rect x="124.45" y="534.00" width="23.15" height="1.00" fill="#e75560"/><rect x="124.45" y="535.00" width="23.15" height="1.00" fill="#e85660"/><rect x="124.45" y="536.00" width="23.15" height="1.00" fill="#e8585f"/><rect x="124.45" y="537.00" width="23.15" height="1.00" fill="#e9595e"/><rect x="124.45" y="538.00" width="23.15" height="1.00" fill="#ea5b5e"/><rect x="124.45" y="539.00" width="23.15" height="1.00" fill="#ea5c5d"/><rect x="124.45" y="540.00" width="23.15" height="4.00" fill="#ea5d5d"/><rect x="124.45" y="544.00" width="23.15" height="3.00" fill="#eb5d5d"/><rect x="124.45" y="547.00" width="23.15" height="1.00" fill="#ea5c5d"/><rect x="124.45" y="548.00" width="23.15" height="7.00" fill="#ea5b5e"/><rect x="124.45" y="555.00" width="23.15" height="1.00" fill="#e95a5e"/><rect x="124.45" y="556.00" width="23.15" height="4.00" fill="#e9595e"/><rect x="124.45" y="560.00" width="23.15" height="1.00" fill="#e9585f"/><rect x="124.45" y="561.00" width="23.15" height="1.00" fill="#e75660"/><rect x="124.45" y="562.00" width="23.15" height="1.00" fill="#e65461"/><rect x="124.45" y="563.00" width="23.15" height="1.00" fill="#e55262"/><rect x="124.45" y="564.00" width="23.15" height="1.00" fill="#e35064"/><rect x="124.45" y="565.00" width="23.15" height="1.00" fill="#e24e65"/><rect x="124.45" y="566.00" width="23.15" height="1.00" fill="#e04c66"/><rect x="124.45" y="567.00" width="23.15" height="1.00" fill="#df4a68"/><rect x="124.45" y="568.00" width="23.15" height="1.00" fill="#db486a"/><rect x="124.45" y="569.00" width="23.15" height="1.00" fill="#d6446d"/><rect x="124.45" y="570.00" width="23.15" height="1.00" fill="#d0416f"/><rect x="124.45" y="571.00" width="23.15" height="1.00" fill="#cb3f72"/><rect x="124.45" y="572.00" width="23.15" height="1.00" fill="#c53c74"/><rect x="124.45" y="573.00" width="23.15" height="1.00" fill="#bf3a77"/><rect x="124.45" y="574.00" width="23.15" height="1.00" fill="#b93879"/><rect x="124.45" y="575.00" width="23.15" height="1.00" fill="#b4367a"/><rect x="124.45" y="576.00" width="23.15" height="1.00" fill="#b2357a"/><rect x="124.45" y="577.00" width="23.15" height="1.00" fill="#af347b"/><rect x="124.45" y="578.00" width="23.15" height="1.00" fill="#ad347c"/><rect x="124.45" y="579.00" width="23.15" height="1.00" fill="#ab337c"/><rect x="124.45" y="580.00" width="23.15" height="1.00" fill="#a8327d"/><rect x="124.45" y="581.00" width="23.15" height="1.00" fill="#a5317e"/><rect x="124.45" y="582.00" width="23.15" height="1.00" fill="#a3307e"/><rect x="124.45" y="583.00" width="23.15" height="1.00" fill="#a1307e"/><rect x="124.45" y="584.00" width="23.15" height="1.00" fill="#9e2f7f"/><rect x="124.45" y="585.00" width="23.15" height="1.00" fill="#9a2e7f"/><rect x="124.45" y="586.00" width="23.15" height="1.00" fill="#952c80"/><rect x="124.45" y="587.00" width="23.15" height="1.00" fill="#902a81"/><rect x="124.45" y="588.00" width="23.15" height="1.00" fill="#8b2981"/><rect x="124.45" y="589.00" width="23.15" height="1.00" fill="#862781"/><rect x="124.45" y="590.00" width="23.15" height="1.00" fill="#7e2482"/><rect x="124.45" y="591.00" width="23.15" height="1.00" fill="#711f81"/><rect x="124.45" y="592.00" width="23.15" height="1.00" fill="#59177c"/><rect x="124.45" y="593.00" width="23.15" height="1.00" fill="#0f0929"/><rect x="124.45" y="594.00" width="23.15" height="1.00" fill="#03020f"/><rect x="124.45" y="595.00" width="23.15" height="1.00" fill="#02020d"/><rect x="124.45" y="596.00" width="23.15" height="1.00" fill="#02020c"/><rect x="124.45" y="597.00" width="23.15" height="1.20" fill="#02020b"/>
<rect x="152.30" y="363.20" width="23.22" height="0.80" fill="#eea56f"/><rect x="152.30" y="364.00" width="23.22" height="1.00" fill="#eeb077"/><rect x="152.30" y="365.00" width="23.22" height="1.00" fill="#eebf83"/><rect x="152.30" y="366.00" width="23.22" height="1.00" fill="#edcb8e"/><rect x="152.30" y="367.00" width="23.22" height="1.00" fill="#edd293"/><rect x="152.30" y="368.00" width="23.22" height="1.00" fill="#edcf91"/><rect x="152.30" y="369.00" width="23.22" height="1.00" fill="#eec488"/><rect x="152.30" y="370.00" width="23.22" height="1.00" fill="#eeb67c"/><rect x="152.30" y="371.00" width="23.22" height="1.00" fill="#eea872"/><rect x="152.30" y="372.00" width="23.22" height="1.00" fill="#eda06c"/><rect x="152.30" y="373.00" width="23.22" height="1.00" fill="#eda16d"/><rect x="152.30" y="374.00" width="23.22" height="1.00" fill="#eeaa73"/><rect x="152.30" y="375.00" width="23.22" height="1.00" fill="#eeb87d"/><rect x="152.30" y="376.00" width="23.22" height="1.00" fill="#eec689"/><rect x="152.30" y="377.00" width="23.22" height="1.00" fill="#edd092"/><rect x="152.30" y="378.00" width="23.22" height="1.00" fill="#edd193"/><rect x="152.30" y="379.00" width="23.22" height="1.00" fill="#edca8d"/><rect x="152.30" y="380.00" width="23.22" height="1.00" fill="#eebd81"/><rect x="152.30" y="381.00" width="23.22" height="1.00" fill="#eeae76"/><rect x="152.30" y="382.00" width="23.22" height="1.00" fill="#eda36e"/><rect x="152.30" y="383.00" width="23.22" height="1.00" fill="#eda06c"/><rect x="152.30" y="384.00" width="23.22" height="1.00" fill="#eea56f"/><rect x="152.30" y="385.00" width="23.22" height="1.00" fill="#eeb178"/><rect x="152.30" y="386.00" width="23.22" height="1.00" fill="#eec084"/><rect x="152.30" y="387.00" width="23.22" height="1.00" fill="#edcc8e"/><rect x="152.30" y="388.00" width="23.22" height="1.00" fill="#edd293"/><rect x="152.30" y="389.00" width="23.22" height="1.00" fill="#edce90"/><rect x="152.30" y="390.00" width="23.22" height="1.00" fill="#eec387"/><rect x="152.30" y="391.00" width="23.22" height="1.00" fill="#eeb47b"/><rect x="152.30" y="392.00" width="23.22" height="1.00" fill="#eea771"/><rect x="152.30" y="393.00" width="23.22" height="1.00" fill="#eda06c"/><rect x="152.30" y="394.00" width="23.22" height="1.00" fill="#eda16d"/><rect x="152.30" y="395.00" width="23.22" height="1.00" fill="#eeab74"/><rect x="152.30" y="396.00" width="23.22" height="1.00" fill="#eeb97e"/><rect x="152.30" y="397.00" width="23.22" height="1.00" fill="#eec78a"/><rect x="152.30" y="398.00" width="23.22" height="1.00" fill="#edd092"/><rect x="152.30" y="399.00" width="23.22" height="1.00" fill="#edd193"/><rect x="152.30" y="400.00" width="23.22" height="1.00" fill="#edc98c"/><rect x="152.30" y="401.00" width="23.22" height="1.00" fill="#eebb80"/><rect x="152.30" y="402.00" width="23.22" height="1.00" fill="#eead75"/><rect x="152.30" y="403.00" width="23.22" height="1.00" fill="#eda26e"/><rect x="152.30" y="404.00" width="23.22" height="1.00" fill="#eda06c"/><rect x="152.30" y="405.00" width="23.22" height="1.00" fill="#eea570"/><rect x="152.30" y="406.00" width="23.22" height="1.00" fill="#eeb279"/><rect x="152.30" y="407.00" width="23.22" height="1.00" fill="#eec185"/><rect x="152.30" y="408.00" width="23.22" height="1.00" fill="#edcd8f"/><rect x="152.30" y="409.00" width="23.22" height="1.00" fill="#edd293"/><rect x="152.30" y="410.00" width="23.22" height="1.00" fill="#edcd90"/><rect x="152.30" y="411.00" width="23.22" height="1.00" fill="#eec286"/><rect x="152.30" y="412.00" width="23.22" height="1.00" fill="#eeb37a"/><rect x="152.30" y="413.00" width="23.22" height="1.00" fill="#eea670"/><rect x="152.30" y="414.00" width="23.22" height="1.00" fill="#eda06c"/><rect x="152.30" y="415.00" width="23.22" height="1.00" fill="#eda26d"/><rect x="152.30" y="416.00" width="23.22" height="1.00" fill="#eeac74"/><rect x="152.30" y="417.00" width="23.22" height="1.00" fill="#eeba7f"/><rect x="152.30" y="418.00" width="23.22" height="1.00" fill="#edc88b"/><rect x="152.30" y="419.00" width="23.22" height="2.00" fill="#edd092"/><rect x="152.30" y="421.00" width="23.22" height="1.00" fill="#edc88b"/><rect x="152.30" y="422.00" width="23.22" height="1.00" fill="#eeba7f"/><rect x="152.30" y="423.00" width="23.22" height="1.00" fill="#eeac74"/><rect x="152.30" y="424.00" width="23.22" height="1.00" fill="#eda26d"/><rect x="152.30" y="425.00" width="23.22" height="1.00" fill="#eda06c"/><rect x="152.30" y="426.00" width="23.22" height="1.00" fill="#eea670"/><rect x="152.30" y="427.00" width="23.22" height="1.00" fill="#eeb37a"/><rect x="152.30" y="428.00" width="23.22" height="1.00" fill="#eec286"/><rect x="152.30" y="429.00" width="23.22" height="1.00" fill="#edcd90"/><rect x="152.30" y="430.00" width="23.22" height="1.00" fill="#edd293"/><rect x="152.30" y="431.00" width="23.22" height="1.00" fill="#edcd8f"/><rect x="152.30" y="432.00" width="23.22" height="1.00" fill="#eec185"/><rect x="152.30" y="433.00" width="23.22" height="1.00" fill="#eeb279"/><rect x="152.30" y="434.00" width="23.22" height="1.00" fill="#eea570"/><rect x="152.30" y="435.00" width="23.22" height="1.00" fill="#eda06c"/><rect x="152.30" y="436.00" width="23.22" height="1.00" fill="#eda26e"/><rect x="152.30" y="437.00" width="23.22" height="1.00" fill="#eead75"/><rect x="152.30" y="438.00" width="23.22" height="1.00" fill="#eebb80"/><rect x="152.30" y="439.00" width="23.22" height="1.00" fill="#edc98c"/><rect x="152.30" y="440.00" width="23.22" height="1.00" fill="#edd193"/><rect x="152.30" y="441.00" width="23.22" height="1.00" fill="#edd092"/><rect x="152.30" y="442.00" width="23.22" height="1.00" fill="#eec78a"/><rect x="152.30" y="443.00" width="23.22" height="1.00" fill="#eeb97e"/><rect x="152.30" y="444.00" width="23.22" height="1.00" fill="#eeab74"/><rect x="152.30" y="445.00" width="23.22" height="1.00" fill="#eda16d"/><rect x="152.30" y="446.00" width="23.22" height="1.00" fill="#eda06c"/><rect x="152.30" y="447.00" width="23.22" height="1.00" fill="#eea771"/><rect x="152.30" y="448.00" width="23.22" height="1.00" fill="#eeb47b"/><rect x="152.30" y="449.00" width="23.22" height="1.00" fill="#eec387"/><rect x="152.30" y="450.00" width="23.22" height="1.00" fill="#edce90"/><rect x="152.30" y="451.00" width="23.22" height="1.00" fill="#edd293"/><rect x="152.30" y="452.00" width="23.22" height="1.00" fill="#edcc8e"/><rect x="152.30" y="453.00" width="23.22" height="1.00" fill="#eec084"/><rect x="152.30" y="454.00" width="23.22" height="1.00" fill="#eeb178"/><rect x="152.30" y="455.00" width="23.22" height="1.00" fill="#eea56f"/><rect x="152.30" y="456.00" width="23.22" height="1.00" fill="#eda06c"/><rect x="152.30" y="457.00" width="23.22" height="1.00" fill="#eda36e"/><rect x="152.30" y="458.00" width="23.22" height="1.00" fill="#eeae76"/><rect x="152.30" y="459.00" width="23.22" height="1.00" fill="#eebd81"/><rect x="152.30" y="460.00" width="23.22" height="1.00" fill="#edca8d"/><rect x="152.30" y="461.00" width="23.22" height="1.00" fill="#edd193"/><rect x="152.30" y="462.00" width="23.22" height="1.00" fill="#edd092"/><rect x="152.30" y="463.00" width="23.22" height="1.00" fill="#eec689"/><rect x="152.30" y="464.00" width="23.22" height="1.00" fill="#eeb87d"/><rect x="152.30" y="465.00" width="23.22" height="1.00" fill="#eeaa73"/><rect x="152.30" y="466.00" width="23.22" height="1.00" fill="#eda16d"/><rect x="152.30" y="467.00" width="23.22" height="1.00" fill="#eda06c"/><rect x="152.30" y="468.00" width="23.22" height="1.00" fill="#eea872"/><rect x="152.30" y="469.00" width="23.22" height="1.00" fill="#eeb67c"/><rect x="152.30" y="470.00" width="23.22" height="1.00" fill="#eec488"/><rect x="152.30" y="471.00" width="23.22" height="1.00" fill="#edcf91"/><rect x="152.30" y="472.00" width="23.22" height="1.00" fill="#edd293"/><rect x="152.30" y="473.00" width="23.22" height="1.00" fill="#edcb8e"/><rect x="152.30" y="474.00" width="23.22" height="1.00" fill="#eebf83"/><rect x="152.30" y="475.00" width="23.22" height="1.00" fill="#eeb077"/><rect x="152.30" y="476.00" width="23.22" height="1.00" fill="#eea46f"/><rect x="152.30" y="477.00" width="23.22" height="1.00" fill="#eda06c"/><rect x="152.30" y="478.00" width="23.22" height="1.00" fill="#eda36e"/><rect x="152.30" y="479.00" width="23.22" height="1.00" fill="#eeaf77"/><rect x="152.30" y="480.00" width="23.22" height="1.00" fill="#eebe82"/><rect x="152.30" y="481.00" width="23.22" height="1.00" fill="#edcb8d"/><rect x="152.30" y="482.00" width="23.22" height="1.00" fill="#edd193"/><rect x="152.30" y="483.00" width="23.22" height="1.00" fill="#edcf91"/><rect x="152.30" y="484.00" width="23.22" height="1.00" fill="#eec588"/><rect x="152.30" y="485.00" width="23.22" height="1.00" fill="#eeb77c"/><rect x="152.30" y="486.00" width="23.22" height="1.00" fill="#eea972"/><rect x="152.30" y="487.00" width="23.22" height="2.00" fill="#eda16d"/><rect x="152.30" y="489.00" width="23.22" height="1.00" fill="#eea972"/><rect x="152.30" y="490.00" width="23.22" height="1.00" fill="#eeb77d"/><rect x="152.30" y="491.00" width="23.22" height="1.00" fill="#eec589"/><rect x="152.30" y="492.00" width="23.22" height="1.00" fill="#edcf91"/><rect x="152.30" y="493.00" width="23.22" height="1.00" fill="#edd193"/><rect x="152.30" y="494.00" width="23.22" height="1.00" fill="#edca8d"/><rect x="152.30" y="495.00" width="23.22" height="1.00" fill="#eebd82"/><rect x="152.30" y="496.00" width="23.22" height="1.00" fill="#eeaf77"/><rect x="152.30" y="497.00" width="23.22" height="1.00" fill="#eda36e"/><rect x="152.30" y="498.00" width="23.22" height="1.00" fill="#eda06c"/><rect x="152.30" y="499.00" width="23.22" height="1.00" fill="#eea46f"/><rect x="152.30" y="500.00" width="23.22" height="1.00" fill="#eeb078"/><rect x="152.30" y="501.00" width="23.22" height="1.00" fill="#eebf83"/><rect x="152.30" y="502.00" width="23.22" height="1.00" fill="#edcb8e"/><rect x="152.30" y="503.00" width="23.22" height="1.00" fill="#edd294"/><rect x="152.30" y="504.00" width="23.22" height="1.00" fill="#edcf91"/><rect x="152.30" y="505.00" width="23.22" height="1.00" fill="#eec487"/><rect x="152.30" y="506.00" width="23.22" height="1.00" fill="#eeb67c"/><rect x="152.30" y="507.00" width="23.22" height="1.00" fill="#eea872"/><rect x="152.30" y="508.00" width="23.22" height="1.00" fill="#eda06c"/><rect x="152.30" y="509.00" width="23.22" height="1.00" fill="#eda16d"/><rect x="152.30" y="510.00" width="23.22" height="1.00" fill="#eeaa73"/><rect x="152.30" y="511.00" width="23.22" height="1.00" fill="#eeb87e"/><rect x="152.30" y="512.00" width="23.22" height="1.00" fill="#eec689"/><rect x="152.30" y="513.00" width="23.22" height="1.00" fill="#edd092"/><rect x="152.30" y="514.00" width="23.22" height="1.00" fill="#edd193"/><rect x="152.30" y="515.00" width="23.22" height="1.00" fill="#edca8c"/><rect x="152.30" y="516.00" width="23.22" height="1.00" fill="#eebc81"/><rect x="152.30" y="517.00" width="23.22" height="1.00" fill="#eeae76"/><rect x="152.30" y="518.00" width="23.22" height="1.00" fill="#eda36e"/><rect x="152.30" y="519.00" width="23.22" height="1.00" fill="#eda06c"/><rect x="152.30" y="520.00" width="23.22" height="1.00" fill="#eea56f"/><rect x="152.30" y="521.00" width="23.22" height="1.00" fill="#eeb178"/><rect x="152.30" y="522.00" width="23.22" height="1.00" fill="#eec084"/><rect x="152.30" y="523.00" width="23.22" height="1.00" fill="#edcc8f"/><rect x="152.30" y="524.00" width="23.22" height="1.00" fill="#edd293"/><rect x="152.30" y="525.00" width="23.22" height="1.00" fill="#edce90"/><rect x="152.30" y="526.00" width="23.22" height="1.00" fill="#eec387"/><rect x="152.30" y="527.00" width="23.22" height="1.00" fill="#eeb47b"/><rect x="152.30" y="528.00" width="23.22" height="1.00" fill="#eea771"/><rect x="152.30" y="529.00" width="23.22" height="1.00" fill="#eda06c"/><rect x="152.30" y="530.00" width="23.22" height="1.00" fill="#eda16d"/><rect x="152.30" y="531.00" width="23.22" height="1.00" fill="#eeab74"/><rect x="152.30" y="532.00" width="23.22" height="1.00" fill="#eeb97f"/><rect x="152.30" y="533.00" width="23.22" height="1.00" fill="#eec78a"/><rect x="152.30" y="534.00" width="23.22" height="1.00" fill="#edd092"/><rect x="152.30" y="535.00" width="23.22" height="1.00" fill="#edd193"/><rect x="152.30" y="536.00" width="23.22" height="1.00" fill="#edc98c"/><rect x="152.30" y="537.00" width="23.22" height="1.00" fill="#eebb80"/><rect x="152.30" y="538.00" width="23.22" height="1.00" fill="#eead75"/><rect x="152.30" y="539.00" width="23.22" height="1.00" fill="#eda26d"/><rect x="152.30" y="540.00" width="23.22" height="1.00" fill="#eda06c"/><rect x="152.30" y="541.00" width="23.22" height="1.00" fill="#eea570"/><rect x="152.30" y="542.00" width="23.22" height="1.00" fill="#eeb279"/><rect x="152.30" y="543.00" width="23.22" height="1.00" fill="#eec185"/><rect x="152.30" y="544.00" width="23.22" height="1.00" fill="#edcd8f"/><rect x="152.30" y="545.00" width="23.22" height="1.00" fill="#edd293"/><rect x="152.30" y="546.00" width="23.22" height="1.00" fill="#edcd90"/><rect x="152.30" y="547.00" width="23.22" height="1.00" fill="#eec286"/><rect x="152.30" y="548.00" width="23.22" height="1.00" fill="#eeb37a"/><rect x="152.30" y="549.00" width="23.22" height="1.00" fill="#eea670"/><rect x="152.30" y="550.00" width="23.22" height="1.00" fill="#eda06c"/><rect x="152.30" y="551.00" width="23.22" height="1.00" fill="#eda26d"/><rect x="152.30" y="552.00" width="23.22" height="1.00" fill="#eeac75"/><rect x="152.30" y="553.00" width="23.22" height="1.00" fill="#eebb80"/><rect x="152.30" y="554.00" width="23.22" height="1.00" fill="#edc88b"/><rect x="152.30" y="555.00" width="23.22" height="1.00" fill="#edd193"/><rect x="152.30" y="556.00" width="23.22" height="1.00" fill="#edd092"/><rect x="152.30" y="557.00" width="23.22" height="1.00" fill="#edc88b"/><rect x="152.30" y="558.00" width="23.22" height="1.00" fill="#eeba7f"/><rect x="152.30" y="559.00" width="23.22" height="1.00" fill="#eeab74"/><rect x="152.30" y="560.00" width="23.22" height="1.00" fill="#eda26d"/><rect x="152.30" y="561.00" width="23.22" height="1.00" fill="#eda06c"/><rect x="152.30" y="562.00" width="23.22" height="1.00" fill="#eea670"/><rect x="152.30" y="563.00" width="23.22" height="1.00" fill="#eeb47a"/><rect x="152.30" y="564.00" width="23.22" height="1.00" fill="#eec286"/><rect x="152.30" y="565.00" width="23.22" height="1.00" fill="#edce90"/><rect x="152.30" y="566.00" width="23.22" height="1.00" fill="#edd293"/><rect x="152.30" y="567.00" width="23.22" height="1.00" fill="#edcd8f"/><rect x="152.30" y="568.00" width="23.22" height="1.00" fill="#eec185"/><rect x="152.30" y="569.00" width="23.22" height="1.00" fill="#eeb279"/><rect x="152.30" y="570.00" width="23.22" height="1.00" fill="#eea570"/><rect x="152.30" y="571.00" width="23.22" height="1.00" fill="#eda06c"/><rect x="152.30" y="572.00" width="23.22" height="1.00" fill="#eda26e"/><rect x="152.30" y="573.00" width="23.22" height="1.00" fill="#eead75"/><rect x="152.30" y="574.00" width="23.22" height="1.00" fill="#eebc81"/><rect x="152.30" y="575.00" width="23.22" height="1.00" fill="#edc98c"/><rect x="152.30" y="576.00" width="23.22" height="1.00" fill="#edd193"/><rect x="152.30" y="577.00" width="23.22" height="1.00" fill="#edd092"/><rect x="152.30" y="578.00" width="23.22" height="1.00" fill="#eec78a"/><rect x="152.30" y="579.00" width="23.22" height="1.00" fill="#eeb97e"/><rect x="152.30" y="580.00" width="23.22" height="1.00" fill="#eeaa73"/><rect x="152.30" y="581.00" width="23.22" height="1.00" fill="#eda16d"/><rect x="152.30" y="582.00" width="23.22" height="1.00" fill="#eda06c"/><rect x="152.30" y="583.00" width="23.22" height="1.00" fill="#eea771"/><rect x="152.30" y="584.00" width="23.22" height="1.00" fill="#eeb57b"/><rect x="152.30" y="585.00" width="23.22" height="1.00" fill="#eec487"/><rect x="152.30" y="586.00" width="23.22" height="1.00" fill="#edce90"/><rect x="152.30" y="587.00" width="23.22" height="1.00" fill="#edd293"/><rect x="152.30" y="588.00" width="23.22" height="1.00" fill="#edcc8e"/><rect x="152.30" y="589.00" width="23.22" height="1.00" fill="#eec084"/><rect x="152.30" y="590.00" width="23.22" height="1.00" fill="#eeb178"/><rect x="152.30" y="591.00" width="23.22" height="1.00" fill="#eea56f"/><rect x="152.30" y="592.00" width="23.22" height="1.00" fill="#eda06c"/><rect x="152.30" y="593.00" width="23.22" height="1.00" fill="#eda36e"/><rect x="152.30" y="594.00" width="23.22" height="1.00" fill="#eeae76"/><rect x="152.30" y="595.00" width="23.22" height="1.00" fill="#eebd81"/><rect x="152.30" y="596.00" width="23.22" height="1.00" fill="#edca8d"/><rect x="152.30" y="597.00" width="23.22" height="1.00" fill="#edd193"/><rect x="152.30" y="598.00" width="23.22" height="0.20" fill="#edd294"/>
<rect x="175.53" y="363.20" width="23.22" height="0.80" fill="#eda26d"/><rect x="175.53" y="364.00" width="23.22" height="1.00" fill="#ed9f6b"/><rect x="175.53" y="365.00" width="23.22" height="1.00" fill="#ee9164"/><rect x="175.53" y="366.00" width="23.22" height="1.00" fill="#e66662"/><rect x="175.53" y="367.00" width="23.22" height="1.00" fill="#591878"/><rect x="175.53" y="368.00" width="23.22" height="1.00" fill="#ae3c71"/><rect x="175.53" y="369.00" width="23.22" height="1.00" fill="#ef8660"/><rect x="175.53" y="370.00" width="23.22" height="1.00" fill="#ed9c6a"/><rect x="175.53" y="371.00" width="23.22" height="1.00" fill="#eda16d"/><rect x="175.53" y="372.00" width="23.22" height="2.00" fill="#eea46f"/><rect x="175.53" y="374.00" width="23.22" height="1.00" fill="#eda06c"/><rect x="175.53" y="375.00" width="23.22" height="1.00" fill="#ee9a69"/><rect x="175.53" y="376.00" width="23.22" height="1.00" fill="#ef825e"/><rect x="175.53" y="377.00" width="23.22" height="1.00" fill="#a23374"/><rect x="175.53" y="378.00" width="23.22" height="1.00" fill="#611a77"/><rect x="175.53" y="379.00" width="23.22" height="1.00" fill="#ea6e60"/><rect x="175.53" y="380.00" width="23.22" height="1.00" fill="#ee9566"/><rect x="175.53" y="381.00" width="23.22" height="1.00" fill="#ed9f6c"/><rect x="175.53" y="382.00" width="23.22" height="1.00" fill="#eda36e"/><rect x="175.53" y="383.00" width="23.22" height="1.00" fill="#eea56f"/><rect x="175.53" y="384.00" width="23.22" height="1.00" fill="#eda26d"/><rect x="175.53" y="385.00" width="23.22" height="1.00" fill="#ed9e6b"/><rect x="175.53" y="386.00" width="23.22" height="1.00" fill="#ee8f63"/><rect x="175.53" y="387.00" width="23.22" height="1.00" fill="#e05f64"/><rect x="175.53" y="388.00" width="23.22" height="1.00" fill="#511577"/><rect x="175.53" y="389.00" width="23.22" height="1.00" fill="#bb456e"/><rect x="175.53" y="390.00" width="23.22" height="1.00" fill="#ef8960"/><rect x="175.53" y="391.00" width="23.22" height="1.00" fill="#ed9d6a"/><rect x="175.53" y="392.00" width="23.22" height="1.00" fill="#eda16d"/><rect x="175.53" y="393.00" width="23.22" height="2.00" fill="#eea46f"/><rect x="175.53" y="395.00" width="23.22" height="1.00" fill="#eda06c"/><rect x="175.53" y="396.00" width="23.22" height="1.00" fill="#ee9968"/><rect x="175.53" y="397.00" width="23.22" height="1.00" fill="#ef7e5e"/><rect x="175.53" y="398.00" width="23.22" height="1.00" fill="#942d76"/><rect x="175.53" y="399.00" width="23.22" height="1.00" fill="#6c1e77"/><rect x="175.53" y="400.00" width="23.22" height="1.00" fill="#ec745e"/><rect x="175.53" y="401.00" width="23.22" height="1.00" fill="#ee9667"/><rect x="175.53" y="402.00" width="23.22" height="1.00" fill="#ed9f6c"/><rect x="175.53" y="403.00" width="23.22" height="1.00" fill="#eda36e"/><rect x="175.53" y="404.00" width="23.22" height="1.00" fill="#eea56f"/><rect x="175.53" y="405.00" width="23.22" height="1.00" fill="#eda26d"/><rect x="175.53" y="406.00" width="23.22" height="1.00" fill="#ed9e6b"/><rect x="175.53" y="407.00" width="23.22" height="1.00" fill="#ef8d62"/><rect x="175.53" y="408.00" width="23.22" height="1.00" fill="#d85867"/><rect x="175.53" y="409.00" width="23.22" height="1.00" fill="#4c1377"/><rect x="175.53" y="410.00" width="23.22" height="1.00" fill="#c74d6c"/><rect x="175.53" y="411.00" width="23.22" height="1.00" fill="#ef8b61"/><rect x="175.53" y="412.00" width="23.22" height="1.00" fill="#ed9e6b"/><rect x="175.53" y="413.00" width="23.22" height="1.00" fill="#eda26d"/><rect x="175.53" y="414.00" width="23.22" height="1.00" fill="#eea56f"/><rect x="175.53" y="415.00" width="23.22" height="1.00" fill="#eda36e"/><rect x="175.53" y="416.00" width="23.22" height="1.00" fill="#eda06c"/><rect x="175.53" y="417.00" width="23.22" height="1.00" fill="#ee9867"/><rect x="175.53" y="418.00" width="23.22" height="1.00" fill="#ee7a5d"/><rect x="175.53" y="419.00" width="23.22" height="1.00" fill="#862777"/><rect x="175.53" y="420.00" width="23.22" height="1.00" fill="#7a2377"/><rect x="175.53" y="421.00" width="23.22" height="1.00" fill="#ee795e"/><rect x="175.53" y="422.00" width="23.22" height="1.00" fill="#ee9867"/><rect x="175.53" y="423.00" width="23.22" height="1.00" fill="#eda06c"/><rect x="175.53" y="424.00" width="23.22" height="1.00" fill="#eda36e"/><rect x="175.53" y="425.00" width="23.22" height="1.00" fill="#eea56f"/><rect x="175.53" y="426.00" width="23.22" height="1.00" fill="#eda26d"/><rect x="175.53" y="427.00" width="23.22" height="1.00" fill="#ed9e6b"/><rect x="175.53" y="428.00" width="23.22" height="1.00" fill="#ef8b61"/><rect x="175.53" y="429.00" width="23.22" height="1.00" fill="#cf516a"/><rect x="175.53" y="430.00" width="23.22" height="1.00" fill="#4b1277"/><rect x="175.53" y="431.00" width="23.22" height="1.00" fill="#d25569"/><rect x="175.53" y="432.00" width="23.22" height="1.00" fill="#ef8d62"/><rect x="175.53" y="433.00" width="23.22" height="1.00" fill="#ed9e6b"/><rect x="175.53" y="434.00" width="23.22" height="1.00" fill="#eda26d"/><rect x="175.53" y="435.00" width="23.22" height="1.00" fill="#eea56f"/><rect x="175.53" y="436.00" width="23.22" height="1.00" fill="#eda36e"/><rect x="175.53" y="437.00" width="23.22" height="1.00" fill="#ed9f6c"/><rect x="175.53" y="438.00" width="23.22" height="1.00" fill="#ee9667"/><rect x="175.53" y="439.00" width="23.22" height="1.00" fill="#ed755e"/><rect x="175.53" y="440.00" width="23.22" height="1.00" fill="#782277"/><rect x="175.53" y="441.00" width="23.22" height="1.00" fill="#872876"/><rect x="175.53" y="442.00" width="23.22" height="1.00" fill="#ef7e5e"/><rect x="175.53" y="443.00" width="23.22" height="1.00" fill="#ee9968"/><rect x="175.53" y="444.00" width="23.22" height="1.00" fill="#eda06c"/><rect x="175.53" y="445.00" width="23.22" height="2.00" fill="#eea46f"/><rect x="175.53" y="447.00" width="23.22" height="1.00" fill="#eda16d"/><rect x="175.53" y="448.00" width="23.22" height="1.00" fill="#ed9d6a"/><rect x="175.53" y="449.00" width="23.22" height="1.00" fill="#ef8960"/><rect x="175.53" y="450.00" width="23.22" height="1.00" fill="#c4496d"/><rect x="175.53" y="451.00" width="23.22" height="1.00" fill="#4d1377"/><rect x="175.53" y="452.00" width="23.22" height="1.00" fill="#db5d66"/><rect x="175.53" y="453.00" width="23.22" height="1.00" fill="#ee8f63"/><rect x="175.53" y="454.00" width="23.22" height="1.00" fill="#ed9e6b"/><rect x="175.53" y="455.00" width="23.22" height="1.00" fill="#eda26d"/><rect x="175.53" y="456.00" width="23.22" height="1.00" fill="#eea56f"/><rect x="175.53" y="457.00" width="23.22" height="1.00" fill="#eda36e"/><rect x="175.53" y="458.00" width="23.22" height="1.00" fill="#ed9f6c"/><rect x="175.53" y="459.00" width="23.22" height="1.00" fill="#ee9566"/><rect x="175.53" y="460.00" width="23.22" height="1.00" fill="#eb705f"/><rect x="175.53" y="461.00" width="23.22" height="1.00" fill="#6b1e78"/><rect x="175.53" y="462.00" width="23.22" height="1.00" fill="#962f74"/><rect x="175.53" y="463.00" width="23.22" height="1.00" fill="#ef825e"/><rect x="175.53" y="464.00" width="23.22" height="1.00" fill="#ee9a69"/><rect x="175.53" y="465.00" width="23.22" height="1.00" fill="#eda06c"/><rect x="175.53" y="466.00" width="23.22" height="2.00" fill="#eea46f"/><rect x="175.53" y="468.00" width="23.22" height="1.00" fill="#eda16d"/><rect x="175.53" y="469.00" width="23.22" height="1.00" fill="#ed9c6a"/><rect x="175.53" y="470.00" width="23.22" height="1.00" fill="#ef8660"/><rect x="175.53" y="471.00" width="23.22" height="1.00" fill="#b84170"/><rect x="175.53" y="472.00" width="23.22" height="1.00" fill="#521577"/><rect x="175.53" y="473.00" width="23.22" height="1.00" fill="#e26363"/><rect x="175.53" y="474.00" width="23.22" height="1.00" fill="#ee9164"/><rect x="175.53" y="475.00" width="23.22" height="1.00" fill="#ed9f6b"/><rect x="175.53" y="476.00" width="23.22" height="1.00" fill="#eda26e"/><rect x="175.53" y="477.00" width="23.22" height="1.00" fill="#eea56f"/><rect x="175.53" y="478.00" width="23.22" height="1.00" fill="#eda26e"/><rect x="175.53" y="479.00" width="23.22" height="1.00" fill="#ed9f6b"/><rect x="175.53" y="480.00" width="23.22" height="1.00" fill="#ee9365"/><rect x="175.53" y="481.00" width="23.22" height="1.00" fill="#e96a60"/><rect x="175.53" y="482.00" width="23.22" height="1.00" fill="#601a78"/><rect x="175.53" y="483.00" width="23.22" height="1.00" fill="#a43672"/><rect x="175.53" y="484.00" width="23.22" height="1.00" fill="#ef855f"/><rect x="175.53" y="485.00" width="23.22" height="1.00" fill="#ed9b69"/><rect x="175.53" y="486.00" width="23.22" height="1.00" fill="#eda16d"/><rect x="175.53" y="487.00" width="23.22" height="2.00" fill="#eea46f"/><rect x="175.53" y="489.00" width="23.22" height="1.00" fill="#eda16d"/><rect x="175.53" y="490.00" width="23.22" height="1.00" fill="#ed9b69"/><rect x="175.53" y="491.00" width="23.22" height="1.00" fill="#ef845f"/><rect x="175.53" y="492.00" width="23.22" height="1.00" fill="#ab3972"/><rect x="175.53" y="493.00" width="23.22" height="1.00" fill="#591877"/><rect x="175.53" y="494.00" width="23.22" height="1.00" fill="#e76a61"/><rect x="175.53" y="495.00" width="23.22" height="1.00" fill="#ee9365"/><rect x="175.53" y="496.00" width="23.22" height="1.00" fill="#ed9f6c"/><rect x="175.53" y="497.00" width="23.22" height="1.00" fill="#eda26e"/><rect x="175.53" y="498.00" width="23.22" height="1.00" fill="#eea56f"/><rect x="175.53" y="499.00" width="23.22" height="1.00" fill="#eda26e"/><rect x="175.53" y="500.00" width="23.22" height="1.00" fill="#ed9f6b"/><rect x="175.53" y="501.00" width="23.22" height="1.00" fill="#ee9164"/><rect x="175.53" y="502.00" width="23.22" height="1.00" fill="#e46462"/><rect x="175.53" y="503.00" width="23.22" height="1.00" fill="#571778"/><rect x="175.53" y="504.00" width="23.22" height="1.00" fill="#b13e70"/><rect x="175.53" y="505.00" width="23.22" height="1.00" fill="#ef8760"/><rect x="175.53" y="506.00" width="23.22" height="1.00" fill="#ed9c6a"/><rect x="175.53" y="507.00" width="23.22" height="1.00" fill="#eda16d"/><rect x="175.53" y="508.00" width="23.22" height="2.00" fill="#eea46f"/><rect x="175.53" y="510.00" width="23.22" height="1.00" fill="#eda06c"/><rect x="175.53" y="511.00" width="23.22" height="1.00" fill="#ee9a69"/><rect x="175.53" y="512.00" width="23.22" height="1.00" fill="#ef815e"/><rect x="175.53" y="513.00" width="23.22" height="1.00" fill="#9e3275"/><rect x="175.53" y="514.00" width="23.22" height="1.00" fill="#641b77"/><rect x="175.53" y="515.00" width="23.22" height="1.00" fill="#eb705f"/><rect x="175.53" y="516.00" width="23.22" height="1.00" fill="#ee9566"/><rect x="175.53" y="517.00" width="23.22" height="1.00" fill="#ed9f6c"/><rect x="175.53" y="518.00" width="23.22" height="1.00" fill="#eda36e"/><rect x="175.53" y="519.00" width="23.22" height="1.00" fill="#eea56f"/><rect x="175.53" y="520.00" width="23.22" height="1.00" fill="#eda26d"/><rect x="175.53" y="521.00" width="23.22" height="1.00" fill="#ed9e6b"/><rect x="175.53" y="522.00" width="23.22" height="1.00" fill="#ef8f63"/><rect x="175.53" y="523.00" width="23.22" height="1.00" fill="#de5d65"/><rect x="175.53" y="524.00" width="23.22" height="1.00" fill="#501477"/><rect x="175.53" y="525.00" width="23.22" height="1.00" fill="#be476e"/><rect x="175.53" y="526.00" width="23.22" height="1.00" fill="#ef8961"/><rect x="175.53" y="527.00" width="23.22" height="1.00" fill="#ed9d6a"/><rect x="175.53" y="528.00" width="23.22" height="1.00" fill="#eda16d"/><rect x="175.53" y="529.00" width="23.22" height="1.00" fill="#eea56f"/><rect x="175.53" y="530.00" width="23.22" height="1.00" fill="#eea46f"/><rect x="175.53" y="531.00" width="23.22" height="1.00" fill="#eda06c"/><rect x="175.53" y="532.00" width="23.22" height="1.00" fill="#ee9968"/><rect x="175.53" y="533.00" width="23.22" height="1.00" fill="#ef7e5e"/><rect x="175.53" y="534.00" width="23.22" height="1.00" fill="#902b76"/><rect x="175.53" y="535.00" width="23.22" height="1.00" fill="#6f1f77"/><rect x="175.53" y="536.00" width="23.22" height="1.00" fill="#ed755e"/><rect x="175.53" y="537.00" width="23.22" height="1.00" fill="#ee9767"/><rect x="175.53" y="538.00" width="23.22" height="1.00" fill="#eda06c"/><rect x="175.53" y="539.00" width="23.22" height="1.00" fill="#eda36e"/><rect x="175.53" y="540.00" width="23.22" height="1.00" fill="#eea56f"/><rect x="175.53" y="541.00" width="23.22" height="1.00" fill="#eda26d"/><rect x="175.53" y="542.00" width="23.22" height="1.00" fill="#ed9e6b"/><rect x="175.53" y="543.00" width="23.22" height="1.00" fill="#ef8c62"/><rect x="175.53" y="544.00" width="23.22" height="1.00" fill="#d65668"/><rect x="175.53" y="545.00" width="23.22" height="1.00" fill="#4c1377"/><rect x="175.53" y="546.00" width="23.22" height="1.00" fill="#ca4f6b"/><rect x="175.53" y="547.00" width="23.22" height="1.00" fill="#ef8b62"/><rect x="175.53" y="548.00" width="23.22" height="1.00" fill="#ed9e6b"/><rect x="175.53" y="549.00" width="23.22" height="1.00" fill="#eda26d"/><rect x="175.53" y="550.00" width="23.22" height="1.00" fill="#eea56f"/><rect x="175.53" y="551.00" width="23.22" height="1.00" fill="#eda36e"/><rect x="175.53" y="552.00" width="23.22" height="1.00" fill="#eda06c"/><rect x="175.53" y="553.00" width="23.22" height="1.00" fill="#ee9767"/><rect x="175.53" y="554.00" width="23.22" height="1.00" fill="#ee795e"/><rect x="175.53" y="555.00" width="23.22" height="1.00" fill="#822677"/><rect x="175.53" y="556.00" width="23.22" height="1.00" fill="#7d2476"/><rect x="175.53" y="557.00" width="23.22" height="1.00" fill="#ee7b5e"/><rect x="175.53" y="558.00" width="23.22" height="1.00" fill="#ee9868"/><rect x="175.53" y="559.00" width="23.22" height="1.00" fill="#eda06c"/><rect x="175.53" y="560.00" width="23.22" height="1.00" fill="#eda36e"/><rect x="175.53" y="561.00" width="23.22" height="1.00" fill="#eea56f"/><rect x="175.53" y="562.00" width="23.22" height="1.00" fill="#eda16d"/><rect x="175.53" y="563.00" width="23.22" height="1.00" fill="#ed9e6b"/><rect x="175.53" y="564.00" width="23.22" height="1.00" fill="#ef8a61"/><rect x="175.53" y="565.00" width="23.22" height="1.00" fill="#cc4f6b"/><rect x="175.53" y="566.00" width="23.22" height="1.00" fill="#4b1377"/><rect x="175.53" y="567.00" width="23.22" height="1.00" fill="#d55768"/><rect x="175.53" y="568.00" width="23.22" height="1.00" fill="#ef8e63"/><rect x="175.53" y="569.00" width="23.22" height="1.00" fill="#ed9e6b"/><rect x="175.53" y="570.00" width="23.22" height="1.00" fill="#eda26d"/><rect x="175.53" y="571.00" width="23.22" height="1.00" fill="#eea56f"/><rect x="175.53" y="572.00" width="23.22" height="1.00" fill="#eda36e"/><rect x="175.53" y="573.00" width="23.22" height="1.00" fill="#ed9f6c"/><rect x="175.53" y="574.00" width="23.22" height="1.00" fill="#ee9666"/><rect x="175.53" y="575.00" width="23.22" height="1.00" fill="#ed745e"/><rect x="175.53" y="576.00" width="23.22" height="1.00" fill="#752177"/><rect x="175.53" y="577.00" width="23.22" height="1.00" fill="#8b2a76"/><rect x="175.53" y="578.00" width="23.22" height="1.00" fill="#ef7f5e"/><rect x="175.53" y="579.00" width="23.22" height="1.00" fill="#ee9968"/><rect x="175.53" y="580.00" width="23.22" height="1.00" fill="#eda06c"/><rect x="175.53" y="581.00" width="23.22" height="2.00" fill="#eea46f"/><rect x="175.53" y="583.00" width="23.22" height="1.00" fill="#eda16d"/><rect x="175.53" y="584.00" width="23.22" height="1.00" fill="#ed9d6a"/><rect x="175.53" y="585.00" width="23.22" height="1.00" fill="#ef8860"/><rect x="175.53" y="586.00" width="23.22" height="1.00" fill="#c1476e"/><rect x="175.53" y="587.00" width="23.22" height="1.00" fill="#4e1477"/><rect x="175.53" y="588.00" width="23.22" height="1.00" fill="#dd5e65"/><rect x="175.53" y="589.00" width="23.22" height="1.00" fill="#ee9064"/><rect x="175.53" y="590.00" width="23.22" height="1.00" fill="#ed9e6b"/><rect x="175.53" y="591.00" width="23.22" height="1.00" fill="#eda26e"/><rect x="175.53" y="592.00" width="23.22" height="1.00" fill="#eea56f"/><rect x="175.53" y="593.00" width="23.22" height="1.00" fill="#eda36e"/><rect x="175.53" y="594.00" width="23.22" height="1.00" fill="#ed9f6c"/><rect x="175.53" y="595.00" width="23.22" height="1.00" fill="#ee9466"/><rect x="175.53" y="596.00" width="23.22" height="1.00" fill="#eb6e5f"/><rect x="175.53" y="597.00" width="23.22" height="1.00" fill="#691d78"/><rect x="175.53" y="598.00" width="23.22" height="0.20" fill="#461077"/>
<rect x="198.75" y="363.20" width="23.22" height="0.80" fill="#430f75"/><rect x="198.75" y="364.00" width="23.22" height="1.00" fill="#38106c"/><rect x="198.75" y="365.00" width="23.22" height="1.00" fill="#140b33"/><rect x="198.75" y="366.00" width="23.22" height="1.00" fill="#010108"/><rect x="198.75" y="367.00" width="23.22" height="1.00" fill="#000004"/><rect x="198.75" y="368.00" width="23.22" height="1.00" fill="#010106"/><rect x="198.75" y="369.00" width="23.22" height="1.00" fill="#060516"/><rect x="198.75" y="370.00" width="23.22" height="1.00" fill="#2e1060"/><rect x="198.75" y="371.00" width="23.22" height="1.00" fill="#3f0f73"/><rect x="198.75" y="372.00" width="23.22" height="1.00" fill="#4b1179"/><rect x="198.75" y="373.00" width="23.22" height="1.00" fill="#491079"/><rect x="198.75" y="374.00" width="23.22" height="1.00" fill="#3d0f71"/><rect x="198.75" y="375.00" width="23.22" height="1.00" fill="#291058"/><rect x="198.75" y="376.00" width="23.22" height="1.00" fill="#040310"/><rect x="198.75" y="377.00" width="23.22" height="1.00" fill="#010005"/><rect x="198.75" y="378.00" width="23.22" height="1.00" fill="#010004"/><rect x="198.75" y="379.00" width="23.22" height="1.00" fill="#010108"/><rect x="198.75" y="380.00" width="23.22" height="1.00" fill="#1b0d40"/><rect x="198.75" y="381.00" width="23.22" height="1.00" fill="#390f6e"/><rect x="198.75" y="382.00" width="23.22" height="1.00" fill="#451077"/><rect x="198.75" y="383.00" width="23.22" height="1.00" fill="#4d117a"/><rect x="198.75" y="384.00" width="23.22" height="1.00" fill="#430f75"/><rect x="198.75" y="385.00" width="23.22" height="1.00" fill="#37106b"/><rect x="198.75" y="386.00" width="23.22" height="1.00" fill="#100a2c"/><rect x="198.75" y="387.00" width="23.22" height="1.00" fill="#010107"/><rect x="198.75" y="388.00" width="23.22" height="1.00" fill="#000004"/><rect x="198.75" y="389.00" width="23.22" height="1.00" fill="#010106"/><rect x="198.75" y="390.00" width="23.22" height="1.00" fill="#08061b"/><rect x="198.75" y="391.00" width="23.22" height="1.00" fill="#301063"/><rect x="198.75" y="392.00" width="23.22" height="1.00" fill="#400f73"/><rect x="198.75" y="393.00" width="23.22" height="1.00" fill="#4c117a"/><rect x="198.75" y="394.00" width="23.22" height="1.00" fill="#491078"/><rect x="198.75" y="395.00" width="23.22" height="1.00" fill="#3c0f70"/><rect x="198.75" y="396.00" width="23.22" height="1.00" fill="#251053"/><rect x="198.75" y="397.00" width="23.22" height="1.00" fill="#03020d"/><rect x="198.75" y="398.00" width="23.22" height="2.00" fill="#010005"/><rect x="198.75" y="400.00" width="23.22" height="1.00" fill="#020109"/><rect x="198.75" y="401.00" width="23.22" height="1.00" fill="#1e0e46"/><rect x="198.75" y="402.00" width="23.22" height="1.00" fill="#3a0f6f"/><rect x="198.75" y="403.00" width="23.22" height="1.00" fill="#461077"/><rect x="198.75" y="404.00" width="23.22" height="1.00" fill="#4d117a"/><rect x="198.75" y="405.00" width="23.22" height="1.00" fill="#420f75"/><rect x="198.75" y="406.00" width="23.22" height="1.00" fill="#351069"/><rect x="198.75" y="407.00" width="23.22" height="1.00" fill="#0d0926"/><rect x="198.75" y="408.00" width="23.22" height="1.00" fill="#010107"/><rect x="198.75" y="409.00" width="23.22" height="1.00" fill="#000004"/><rect x="198.75" y="410.00" width="23.22" height="1.00" fill="#010107"/><rect x="198.75" y="411.00" width="23.22" height="1.00" fill="#0a0720"/><rect x="198.75" y="412.00" width="23.22" height="1.00" fill="#331067"/><rect x="198.75" y="413.00" width="23.22" height="1.00" fill="#410f74"/><rect x="198.75" y="414.00" width="23.22" height="1.00" fill="#4c117a"/><rect x="198.75" y="415.00" width="23.22" height="1.00" fill="#481078"/><rect x="198.75" y="416.00" width="23.22" height="1.00" fill="#3b0f70"/><rect x="198.75" y="417.00" width="23.22" height="1.00" fill="#220f4d"/><rect x="198.75" y="418.00" width="23.22" height="1.00" fill="#02020b"/><rect x="198.75" y="419.00" width="23.22" height="2.00" fill="#010005"/><rect x="198.75" y="421.00" width="23.22" height="1.00" fill="#02020b"/><rect x="198.75" y="422.00" width="23.22" height="1.00" fill="#220f4d"/><rect x="198.75" y="423.00" width="23.22" height="1.00" fill="#3b0f70"/><rect x="198.75" y="424.00" width="23.22" height="1.00" fill="#481078"/><rect x="198.75" y="425.00" width="23.22" height="1.00" fill="#4c117a"/><rect x="198.75" y="426.00" width="23.22" height="1.00" fill="#410f74"/><rect x="198.75" y="427.00" width="23.22" height="1.00" fill="#331067"/><rect x="198.75" y="428.00" width="23.22" height="1.00" fill="#0a0720"/><rect x="198.75" y="429.00" width="23.22" height="1.00" fill="#010107"/><rect x="198.75" y="430.00" width="23.22" height="1.00" fill="#000004"/><rect x="198.75" y="431.00" width="23.22" height="1.00" fill="#010107"/><rect x="198.75" y="432.00" width="23.22" height="1.00" fill="#0d0926"/><rect x="198.75" y="433.00" width="23.22" height="1.00" fill="#351069"/><rect x="198.75" y="434.00" width="23.22" height="1.00" fill="#420f75"/><rect x="198.75" y="435.00" width="23.22" height="1.00" fill="#4d117a"/><rect x="198.75" y="436.00" width="23.22" height="1.00" fill="#461077"/><rect x="198.75" y="437.00" width="23.22" height="1.00" fill="#3a0f6f"/><rect x="198.75" y="438.00" width="23.22" height="1.00" fill="#1e0e46"/><rect x="198.75" y="439.00" width="23.22" height="1.00" fill="#020109"/><rect x="198.75" y="440.00" width="23.22" height="2.00" fill="#010005"/><rect x="198.75" y="442.00" width="23.22" height="1.00" fill="#03020d"/><rect x="198.75" y="443.00" width="23.22" height="1.00" fill="#251053"/><rect x="198.75" y="444.00" width="23.22" height="1.00" fill="#3c0f70"/><rect x="198.75" y="445.00" width="23.22" height="1.00" fill="#491078"/><rect x="198.75" y="446.00" width="23.22" height="1.00" fill="#4c117a"/><rect x="198.75" y="447.00" width="23.22" height="1.00" fill="#400f73"/><rect x="198.75" y="448.00" width="23.22" height="1.00" fill="#301063"/><rect x="198.75" y="449.00" width="23.22" height="1.00" fill="#08061b"/><rect x="198.75" y="450.00" width="23.22" height="1.00" fill="#010106"/><rect x="198.75" y="451.00" width="23.22" height="1.00" fill="#000004"/><rect x="198.75" y="452.00" width="23.22" height="1.00" fill="#010107"/><rect x="198.75" y="453.00" width="23.22" height="1.00" fill="#100a2c"/><rect x="198.75" y="454.00" width="23.22" height="1.00" fill="#37106b"/><rect x="198.75" y="455.00" width="23.22" height="1.00" fill="#430f75"/><rect x="198.75" y="456.00" width="23.22" height="1.00" fill="#4d117a"/><rect x="198.75" y="457.00" width="23.22" height="1.00" fill="#451077"/><rect x="198.75" y="458.00" width="23.22" height="1.00" fill="#390f6e"/><rect x="198.75" y="459.00" width="23.22" height="1.00" fill="#1b0d40"/><rect x="198.75" y="460.00" width="23.22" height="1.00" fill="#010108"/><rect x="198.75" y="461.00" width="23.22" height="1.00" fill="#010004"/><rect x="198.75" y="462.00" width="23.22" height="1.00" fill="#010005"/><rect x="198.75" y="463.00" width="23.22" height="1.00" fill="#040310"/><rect x="198.75" y="464.00" width="23.22" height="1.00" fill="#291058"/><rect x="198.75" y="465.00" width="23.22" height="1.00" fill="#3d0f71"/><rect x="198.75" y="466.00" width="23.22" height="1.00" fill="#491079"/><rect x="198.75" y="467.00" width="23.22" height="1.00" fill="#4b1179"/><rect x="198.75" y="468.00" width="23.22" height="1.00" fill="#3f0f73"/><rect x="198.75" y="469.00" width="23.22" height="1.00" fill="#2e1060"/><rect x="198.75" y="470.00" width="23.22" height="1.00" fill="#060516"/><rect x="198.75" y="471.00" width="23.22" height="1.00" fill="#010106"/><rect x="198.75" y="472.00" width="23.22" height="1.00" fill="#000004"/><rect x="198.75" y="473.00" width="23.22" height="1.00" fill="#010108"/><rect x="198.75" y="474.00" width="23.22" height="1.00" fill="#140b33"/><rect x="198.75" y="475.00" width="23.22" height="1.00" fill="#38106c"/><rect x="198.75" y="476.00" width="23.22" height="1.00" fill="#440f76"/><rect x="198.75" y="477.00" width="23.22" height="1.00" fill="#4d117a"/><rect x="198.75" y="478.00" width="23.22" height="1.00" fill="#441076"/><rect x="198.75" y="479.00" width="23.22" height="1.00" fill="#39106d"/><rect x="198.75" y="480.00" width="23.22" height="1.00" fill="#170c39"/><rect x="198.75" y="481.00" width="23.22" height="1.00" fill="#010108"/><rect x="198.75" y="482.00" width="23.22" height="1.00" fill="#000004"/><rect x="198.75" y="483.00" width="23.22" height="1.00" fill="#010106"/><rect x="198.75" y="484.00" width="23.22" height="1.00" fill="#050413"/><rect x="198.75" y="485.00" width="23.22" height="1.00" fill="#2c105d"/><rect x="198.75" y="486.00" width="23.22" height="1.00" fill="#3e0f72"/><rect x="198.75" y="487.00" width="23.22" height="2.00" fill="#4a1179"/><rect x="198.75" y="489.00" width="23.22" height="1.00" fill="#3e0f72"/><rect x="198.75" y="490.00" width="23.22" height="1.00" fill="#2b105b"/><rect x="198.75" y="491.00" width="23.22" height="1.00" fill="#050413"/><rect x="198.75" y="492.00" width="23.22" height="1.00" fill="#010005"/><rect x="198.75" y="493.00" width="23.22" height="1.00" fill="#000004"/><rect x="198.75" y="494.00" width="23.22" height="1.00" fill="#010108"/><rect x="198.75" y="495.00" width="23.22" height="1.00" fill="#180c3a"/><rect x="198.75" y="496.00" width="23.22" height="1.00" fill="#39106d"/><rect x="198.75" y="497.00" width="23.22" height="1.00" fill="#451076"/><rect x="198.75" y="498.00" width="23.22" height="1.00" fill="#4d117a"/><rect x="198.75" y="499.00" width="23.22" height="1.00" fill="#440f76"/><rect x="198.75" y="500.00" width="23.22" height="1.00" fill="#38106c"/><rect x="198.75" y="501.00" width="23.22" height="1.00" fill="#130b31"/><rect x="198.75" y="502.00" width="23.22" height="1.00" fill="#010108"/><rect x="198.75" y="503.00" width="23.22" height="1.00" fill="#000004"/><rect x="198.75" y="504.00" width="23.22" height="1.00" fill="#010106"/><rect x="198.75" y="505.00" width="23.22" height="1.00" fill="#070517"/><rect x="198.75" y="506.00" width="23.22" height="1.00" fill="#2f1061"/><rect x="198.75" y="507.00" width="23.22" height="1.00" fill="#3f0f73"/><rect x="198.75" y="508.00" width="23.22" height="1.00" fill="#4b1179"/><rect x="198.75" y="509.00" width="23.22" height="1.00" fill="#491079"/><rect x="198.75" y="510.00" width="23.22" height="1.00" fill="#3d0f71"/><rect x="198.75" y="511.00" width="23.22" height="1.00" fill="#281056"/><rect x="198.75" y="512.00" width="23.22" height="1.00" fill="#04030f"/><rect x="198.75" y="513.00" width="23.22" height="1.00" fill="#010005"/><rect x="198.75" y="514.00" width="23.22" height="1.00" fill="#010004"/><rect x="198.75" y="515.00" width="23.22" height="1.00" fill="#010109"/><rect x="198.75" y="516.00" width="23.22" height="1.00" fill="#1b0d41"/><rect x="198.75" y="517.00" width="23.22" height="1.00" fill="#3a0f6e"/><rect x="198.75" y="518.00" width="23.22" height="1.00" fill="#461077"/><rect x="198.75" y="519.00" width="23.22" height="1.00" fill="#4d117a"/><rect x="198.75" y="520.00" width="23.22" height="1.00" fill="#430f75"/><rect x="198.75" y="521.00" width="23.22" height="1.00" fill="#36106b"/><rect x="198.75" y="522.00" width="23.22" height="1.00" fill="#0f092a"/><rect x="198.75" y="523.00" width="23.22" height="1.00" fill="#010107"/><rect x="198.75" y="524.00" width="23.22" height="1.00" fill="#000004"/><rect x="198.75" y="525.00" width="23.22" height="1.00" fill="#010106"/><rect x="198.75" y="526.00" width="23.22" height="1.00" fill="#09061c"/><rect x="198.75" y="527.00" width="23.22" height="1.00" fill="#311064"/><rect x="198.75" y="528.00" width="23.22" height="1.00" fill="#400f73"/><rect x="198.75" y="529.00" width="23.22" height="1.00" fill="#4c117a"/><rect x="198.75" y="530.00" width="23.22" height="1.00" fill="#481078"/><rect x="198.75" y="531.00" width="23.22" height="1.00" fill="#3c0f70"/><rect x="198.75" y="532.00" width="23.22" height="1.00" fill="#250f51"/><rect x="198.75" y="533.00" width="23.22" height="1.00" fill="#03020d"/><rect x="198.75" y="534.00" width="23.22" height="2.00" fill="#010005"/><rect x="198.75" y="536.00" width="23.22" height="1.00" fill="#02010a"/><rect x="198.75" y="537.00" width="23.22" height="1.00" fill="#1f0e48"/><rect x="198.75" y="538.00" width="23.22" height="1.00" fill="#3b0f6f"/><rect x="198.75" y="539.00" width="23.22" height="1.00" fill="#471077"/><rect x="198.75" y="540.00" width="23.22" height="1.00" fill="#4d117a"/><rect x="198.75" y="541.00" width="23.22" height="1.00" fill="#420f74"/><rect x="198.75" y="542.00" width="23.22" height="1.00" fill="#341068"/><rect x="198.75" y="543.00" width="23.22" height="1.00" fill="#0c0824"/><rect x="198.75" y="544.00" width="23.22" height="1.00" fill="#010107"/><rect x="198.75" y="545.00" width="23.22" height="1.00" fill="#000004"/><rect x="198.75" y="546.00" width="23.22" height="1.00" fill="#010107"/><rect x="198.75" y="547.00" width="23.22" height="1.00" fill="#0b0821"/><rect x="198.75" y="548.00" width="23.22" height="1.00" fill="#341067"/><rect x="198.75" y="549.00" width="23.22" height="1.00" fill="#410f74"/><rect x="198.75" y="550.00" width="23.22" height="1.00" fill="#4c117a"/><rect x="198.75" y="551.00" width="23.22" height="1.00" fill="#471078"/><rect x="198.75" y="552.00" width="23.22" height="1.00" fill="#3b0f6f"/><rect x="198.75" y="553.00" width="23.22" height="1.00" fill="#210f4b"/><rect x="198.75" y="554.00" width="23.22" height="1.00" fill="#02020b"/><rect x="198.75" y="555.00" width="23.22" height="2.00" fill="#010005"/><rect x="198.75" y="557.00" width="23.22" height="1.00" fill="#02020c"/><rect x="198.75" y="558.00" width="23.22" height="1.00" fill="#230f4e"/><rect x="198.75" y="559.00" width="23.22" height="1.00" fill="#3c0f70"/><rect x="198.75" y="560.00" width="23.22" height="1.00" fill="#481078"/><rect x="198.75" y="561.00" width="23.22" height="1.00" fill="#4c117a"/><rect x="198.75" y="562.00" width="23.22" height="1.00" fill="#410f74"/><rect x="198.75" y="563.00" width="23.22" height="1.00" fill="#321066"/><rect x="198.75" y="564.00" width="23.22" height="1.00" fill="#0a071e"/><rect x="198.75" y="565.00" width="23.22" height="1.00" fill="#010107"/><rect x="198.75" y="566.00" width="23.22" height="1.00" fill="#000004"/><rect x="198.75" y="567.00" width="23.22" height="1.00" fill="#010107"/><rect x="198.75" y="568.00" width="23.22" height="1.00" fill="#0e0927"/><rect x="198.75" y="569.00" width="23.22" height="1.00" fill="#351069"/><rect x="198.75" y="570.00" width="23.22" height="1.00" fill="#420f75"/><rect x="198.75" y="571.00" width="23.22" height="1.00" fill="#4d117a"/><rect x="198.75" y="572.00" width="23.22" height="1.00" fill="#461077"/><rect x="198.75" y="573.00" width="23.22" height="1.00" fill="#3a0f6f"/><rect x="198.75" y="574.00" width="23.22" height="1.00" fill="#1d0e45"/><rect x="198.75" y="575.00" width="23.22" height="1.00" fill="#010109"/><rect x="198.75" y="576.00" width="23.22" height="1.00" fill="#010004"/><rect x="198.75" y="577.00" width="23.22" height="1.00" fill="#010005"/><rect x="198.75" y="578.00" width="23.22" height="1.00" fill="#03020e"/><rect x="198.75" y="579.00" width="23.22" height="1.00" fill="#261054"/><rect x="198.75" y="580.00" width="23.22" height="1.00" fill="#3d0f71"/><rect x="198.75" y="581.00" width="23.22" height="1.00" fill="#491078"/><rect x="198.75" y="582.00" width="23.22" height="1.00" fill="#4c117a"/><rect x="198.75" y="583.00" width="23.22" height="1.00" fill="#400f73"/><rect x="198.75" y="584.00" width="23.22" height="1.00" fill="#301063"/><rect x="198.75" y="585.00" width="23.22" height="1.00" fill="#080619"/><rect x="198.75" y="586.00" width="23.22" height="1.00" fill="#010106"/><rect x="198.75" y="587.00" width="23.22" height="1.00" fill="#000004"/><rect x="198.75" y="588.00" width="23.22" height="1.00" fill="#010107"/><rect x="198.75" y="589.00" width="23.22" height="1.00" fill="#110a2e"/><rect x="198.75" y="590.00" width="23.22" height="1.00" fill="#37106b"/><rect x="198.75" y="591.00" width="23.22" height="1.00" fill="#430f75"/><rect x="198.75" y="592.00" width="23.22" height="1.00" fill="#4d117a"/><rect x="198.75" y="593.00" width="23.22" height="1.00" fill="#451077"/><rect x="198.75" y="594.00" width="23.22" height="1.00" fill="#39106e"/><rect x="198.75" y="595.00" width="23.22" height="1.00" fill="#1a0d3e"/><rect x="198.75" y="596.00" width="23.22" height="1.00" fill="#010108"/><rect x="198.75" y="597.00" width="23.22" height="1.00" fill="#010004"/><rect x="198.75" y="598.00" width="23.22" height="0.20" fill="#000004"/>
<rect x="221.97" y="363.20" width="23.22" height="7.80" fill="#59157e"/><rect x="221.97" y="371.00" width="23.22" height="1.00" fill="#57157e"/><rect x="221.97" y="372.00" width="23.22" height="1.00" fill="#260f50"/><rect x="221.97" y="373.00" width="23.22" height="1.00" fill="#02020d"/><rect x="221.97" y="374.00" width="23.22" height="8.00" fill="#02020b"/><rect x="221.97" y="382.00" width="23.22" height="1.00" fill="#09061d"/><rect x="221.97" y="383.00" width="23.22" height="1.00" fill="#431270"/><rect x="221.97" y="384.00" width="23.22" height="8.00" fill="#5c167f"/><rect x="221.97" y="392.00" width="23.22" height="1.00" fill="#52147b"/><rect x="221.97" y="393.00" width="23.22" height="1.00" fill="#150b35"/><rect x="221.97" y="394.00" width="23.22" height="9.00" fill="#02020b"/><rect x="221.97" y="403.00" width="23.22" height="1.00" fill="#050413"/><rect x="221.97" y="404.00" width="23.22" height="1.00" fill="#331061"/><rect x="221.97" y="405.00" width="23.22" height="7.00" fill="#59157e"/><rect x="221.97" y="412.00" width="23.22" height="1.00" fill="#58157e"/><rect x="221.97" y="413.00" width="23.22" height="1.00" fill="#341066"/><rect x="221.97" y="414.00" width="23.22" height="1.00" fill="#150e37"/><rect x="221.97" y="415.00" width="23.22" height="4.00" fill="#140e36"/><rect x="221.97" y="419.00" width="23.22" height="1.00" fill="#130d33"/><rect x="221.97" y="420.00" width="23.22" height="1.00" fill="#0d0a28"/><rect x="221.97" y="421.00" width="23.22" height="4.00" fill="#0b0924"/><rect x="221.97" y="425.00" width="23.22" height="1.00" fill="#0c0925"/><rect x="221.97" y="426.00" width="23.22" height="1.00" fill="#1f1049"/><rect x="221.97" y="427.00" width="23.22" height="1.00" fill="#35106a"/><rect x="221.97" y="428.00" width="23.22" height="4.00" fill="#36106b"/><rect x="221.97" y="432.00" width="23.22" height="1.00" fill="#2e1160"/><rect x="221.97" y="433.00" width="23.22" height="1.00" fill="#180f3d"/><rect x="221.97" y="434.00" width="23.22" height="2.00" fill="#140e36"/><rect x="221.97" y="436.00" width="23.22" height="1.00" fill="#1b0f43"/><rect x="221.97" y="437.00" width="23.22" height="1.00" fill="#451174"/><rect x="221.97" y="438.00" width="23.22" height="6.00" fill="#54137d"/><rect x="221.97" y="444.00" width="23.22" height="1.00" fill="#3e116d"/><rect x="221.97" y="445.00" width="23.22" height="1.00" fill="#0a0720"/><rect x="221.97" y="446.00" width="23.22" height="10.00" fill="#03030f"/><rect x="221.97" y="456.00" width="23.22" height="1.00" fill="#110a2e"/><rect x="221.97" y="457.00" width="23.22" height="1.00" fill="#4b1277"/><rect x="221.97" y="458.00" width="23.22" height="6.00" fill="#59157e"/><rect x="221.97" y="464.00" width="23.22" height="1.00" fill="#50137b"/><rect x="221.97" y="465.00" width="23.22" height="1.00" fill="#1a0d3f"/><rect x="221.97" y="466.00" width="23.22" height="3.00" fill="#06051a"/><rect x="221.97" y="469.00" width="23.22" height="1.00" fill="#0a0822"/><rect x="221.97" y="470.00" width="23.22" height="1.00" fill="#130d34"/><rect x="221.97" y="471.00" width="23.22" height="8.00" fill="#140e36"/><rect x="221.97" y="479.00" width="23.22" height="1.00" fill="#1d1046"/><rect x="221.97" y="480.00" width="23.22" height="1.00" fill="#451175"/><rect x="221.97" y="481.00" width="23.22" height="4.00" fill="#51127c"/><rect x="221.97" y="485.00" width="23.22" height="1.00" fill="#50127b"/><rect x="221.97" y="486.00" width="23.22" height="1.00" fill="#341067"/><rect x="221.97" y="487.00" width="23.22" height="1.00" fill="#1b1043"/><rect x="221.97" y="488.00" width="23.22" height="1.00" fill="#1a1042"/><rect x="221.97" y="489.00" width="23.22" height="1.00" fill="#20114c"/><rect x="221.97" y="490.00" width="23.22" height="1.00" fill="#401072"/><rect x="221.97" y="491.00" width="23.22" height="5.00" fill="#4c117a"/><rect x="221.97" y="496.00" width="23.22" height="1.00" fill="#39106d"/><rect x="221.97" y="497.00" width="23.22" height="1.00" fill="#221150"/><rect x="221.97" y="498.00" width="23.22" height="3.00" fill="#21114e"/><rect x="221.97" y="501.00" width="23.22" height="1.00" fill="#241152"/><rect x="221.97" y="502.00" width="23.22" height="1.00" fill="#311065"/><rect x="221.97" y="503.00" width="23.22" height="3.00" fill="#36106b"/><rect x="221.97" y="506.00" width="23.22" height="1.00" fill="#2b115d"/><rect x="221.97" y="507.00" width="23.22" height="1.00" fill="#170f3b"/><rect x="221.97" y="508.00" width="23.22" height="1.00" fill="#140e36"/><rect x="221.97" y="509.00" width="23.22" height="1.00" fill="#160e39"/><rect x="221.97" y="510.00" width="23.22" height="1.00" fill="#39116a"/><rect x="221.97" y="511.00" width="23.22" height="1.00" fill="#58157e"/><rect x="221.97" y="512.00" width="23.22" height="6.00" fill="#59157e"/><rect x="221.97" y="518.00" width="23.22" height="1.00" fill="#351163"/><rect x="221.97" y="519.00" width="23.22" height="1.00" fill="#060517"/><rect x="221.97" y="520.00" width="23.22" height="9.00" fill="#03030f"/><rect x="221.97" y="529.00" width="23.22" height="1.00" fill="#160c37"/><rect x="221.97" y="530.00" width="23.22" height="1.00" fill="#4f137a"/><rect x="221.97" y="531.00" width="23.22" height="8.00" fill="#59157e"/><rect x="221.97" y="539.00" width="23.22" height="1.00" fill="#4d127a"/><rect x="221.97" y="540.00" width="23.22" height="1.00" fill="#241152"/><rect x="221.97" y="541.00" width="23.22" height="10.00" fill="#1a1042"/><rect x="221.97" y="551.00" width="23.22" height="1.00" fill="#22114f"/><rect x="221.97" y="552.00" width="23.22" height="1.00" fill="#431074"/><rect x="221.97" y="553.00" width="23.22" height="5.00" fill="#4c117a"/><rect x="221.97" y="558.00" width="23.22" height="1.00" fill="#4a1179"/><rect x="221.97" y="559.00" width="23.22" height="1.00" fill="#2a105a"/><rect x="221.97" y="560.00" width="23.22" height="2.00" fill="#140e36"/><rect x="221.97" y="562.00" width="23.22" height="1.00" fill="#1e1047"/><rect x="221.97" y="563.00" width="23.22" height="1.00" fill="#481177"/><rect x="221.97" y="564.00" width="23.22" height="5.00" fill="#54137d"/><rect x="221.97" y="569.00" width="23.22" height="1.00" fill="#51137b"/><rect x="221.97" y="570.00" width="23.22" height="1.00" fill="#1d0e44"/><rect x="221.97" y="571.00" width="23.22" height="1.00" fill="#02020c"/><rect x="221.97" y="572.00" width="23.22" height="9.00" fill="#02020b"/><rect x="221.97" y="581.00" width="23.22" height="1.00" fill="#030310"/><rect x="221.97" y="582.00" width="23.22" height="1.00" fill="#2f105b"/><rect x="221.97" y="583.00" width="23.22" height="1.00" fill="#5b167f"/><rect x="221.97" y="584.00" width="23.22" height="7.00" fill="#5c167f"/><rect x="221.97" y="591.00" width="23.22" height="1.00" fill="#361163"/><rect x="221.97" y="592.00" width="23.22" height="1.00" fill="#050413"/><rect x="221.97" y="593.00" width="23.22" height="5.20" fill="#02020b"/>
</g>
<rect x="55.0" y="363.2" width="92.6" height="235.0" fill="none" stroke="#222" stroke-width="1.1"/>
<line x1="66.6" y1="598.2" x2="66.6" y2="602.0" stroke="#222" stroke-width="1"/>
<text x="66.6" y="623.5" font-size="21.5" text-anchor="middle" class="tk" >1</text>
<line x1="89.7" y1="598.2" x2="89.7" y2="602.0" stroke="#222" stroke-width="1"/>
<text x="89.7" y="623.5" font-size="21.5" text-anchor="middle" class="tk" >2</text>
<line x1="112.9" y1="598.2" x2="112.9" y2="602.0" stroke="#222" stroke-width="1"/>
<text x="112.9" y="623.5" font-size="21.5" text-anchor="middle" class="tk" >3</text>
<line x1="136.0" y1="598.2" x2="136.0" y2="602.0" stroke="#222" stroke-width="1"/>
<text x="136.0" y="623.5" font-size="21.5" text-anchor="middle" class="tk" >4</text>
<text transform="matrix(0.24600,0,0,0.22177,75.59,640.98)" font-size="100" fill="#000" style="stroke:#fff;stroke-width:0.64px">site</text>
<text transform="matrix(0.26363,0,0,0.21486,119.32,640.23)" font-size="100" font-style="italic" fill="#000" style="stroke:#fff;stroke-width:0.63px">j</text>
<rect x="152.3" y="363.2" width="92.9" height="235.0" fill="none" stroke="#222" stroke-width="1.1"/>
<line x1="163.9" y1="598.2" x2="163.9" y2="602.0" stroke="#222" stroke-width="1"/>
<text x="163.9" y="623.5" font-size="21.5" text-anchor="middle" class="tk" >1</text>
<line x1="187.1" y1="598.2" x2="187.1" y2="602.0" stroke="#222" stroke-width="1"/>
<text x="187.1" y="623.5" font-size="21.5" text-anchor="middle" class="tk" >2</text>
<line x1="210.4" y1="598.2" x2="210.4" y2="602.0" stroke="#222" stroke-width="1"/>
<text x="210.4" y="623.5" font-size="21.5" text-anchor="middle" class="tk" >3</text>
<line x1="233.6" y1="598.2" x2="233.6" y2="602.0" stroke="#222" stroke-width="1"/>
<text x="233.6" y="623.5" font-size="21.5" text-anchor="middle" class="tk" >4</text>
<text transform="matrix(0.24600,0,0,0.22177,173.19,640.98)" font-size="100" fill="#000" style="stroke:#fff;stroke-width:0.64px">site</text>
<text transform="matrix(0.26363,0,0,0.21486,216.92,640.23)" font-size="100" font-style="italic" fill="#000" style="stroke:#fff;stroke-width:0.63px">j</text>
<line x1="51.2" y1="598.2" x2="55.0" y2="598.2" stroke="#222" stroke-width="1"/>
<text x="47" y="605.4" font-size="21.5" text-anchor="end" class="tk" >0</text>
<line x1="51.2" y1="551.2" x2="55.0" y2="551.2" stroke="#222" stroke-width="1"/>
<text x="47" y="558.4" font-size="21.5" text-anchor="end" class="tk" >10</text>
<line x1="51.2" y1="504.2" x2="55.0" y2="504.2" stroke="#222" stroke-width="1"/>
<text x="47" y="511.4" font-size="21.5" text-anchor="end" class="tk" >20</text>
<line x1="51.2" y1="457.2" x2="55.0" y2="457.2" stroke="#222" stroke-width="1"/>
<text x="47" y="464.4" font-size="21.5" text-anchor="end" class="tk" >30</text>
<line x1="51.2" y1="410.2" x2="55.0" y2="410.2" stroke="#222" stroke-width="1"/>
<text x="47" y="417.4" font-size="21.5" text-anchor="end" class="tk" >40</text>
<line x1="51.2" y1="363.2" x2="55.0" y2="363.2" stroke="#222" stroke-width="1"/>
<text x="47" y="370.4" font-size="21.5" text-anchor="end" class="tk" >50</text>
<text transform="matrix(0,-0.26782,0.24792,0,17.86,510.98)" font-size="100" font-style="italic" fill="#000" style="stroke:#fff;stroke-width:0.58px">t</text>
<text transform="matrix(0,-0.21414,0.24263,0,17.83,501.04)" font-size="100" fill="#000" style="stroke:#fff;stroke-width:0.66px">(</text>
<text transform="matrix(0,-0.18463,0.22116,0,17.80,493.32)" font-size="100" fill="#000" style="stroke:#fff;stroke-width:0.74px">1</text>
<text transform="matrix(0,-0.31314,0.32888,0,22.68,481.90)" font-size="100" fill="#000" style="stroke:#fff;stroke-width:0.47px">/</text>
<text transform="matrix(0,-0.26936,0.23775,0,17.87,471.31)" font-size="100" font-style="italic" fill="#000" style="stroke:#fff;stroke-width:0.59px">J</text>
<text transform="matrix(0,-0.19078,0.24263,0,17.83,457.31)" font-size="100" fill="#000" style="stroke:#fff;stroke-width:0.70px">)</text>
<path d="M54.9,354.6 H85.3 V323.3 L116.3,354.6 H146.7" fill="none" stroke="#666" stroke-width="1.3"/>
<circle cx="108.6" cy="346.4" r="2.3" fill="#fff" stroke="#666" stroke-width="1.1"/>
<path d="M152.8,354.6 H183.7 L214.5,323.3 V354.6 H245.3" fill="none" stroke="#666" stroke-width="1.3"/>
<circle cx="190.9" cy="346.4" r="2.3" fill="#fff" stroke="#666" stroke-width="1.1"/>
<line x1="67.7" y1="340.4" x2="76.4" y2="340.4" stroke="#666" stroke-width="1"/><path d="M79.4,340.4 L74.9,338.4 L74.9,342.4 Z" fill="#666"/>
<line x1="166.9" y1="340.4" x2="174.4" y2="340.4" stroke="#666" stroke-width="1"/><path d="M177.4,340.4 L172.9,338.4 L172.9,342.4 Z" fill="#666"/>
<defs><linearGradient id="cbar" x1="0" y1="0" x2="0" y2="1"><stop offset="0.000" stop-color="#ebf8b9"/><stop offset="0.025" stop-color="#ecedae"/><stop offset="0.050" stop-color="#ece2a4"/><stop offset="0.075" stop-color="#edd697"/><stop offset="0.100" stop-color="#edcb8e"/><stop offset="0.125" stop-color="#eec084"/><stop offset="0.150" stop-color="#eeb47a"/><stop offset="0.175" stop-color="#eea972"/><stop offset="0.200" stop-color="#ed9c6a"/><stop offset="0.225" stop-color="#ee9164"/><stop offset="0.250" stop-color="#ef875f"/><stop offset="0.275" stop-color="#ef7a5c"/><stop offset="0.300" stop-color="#ef6f5a"/><stop offset="0.325" stop-color="#ec635b"/><stop offset="0.350" stop-color="#e9595e"/><stop offset="0.375" stop-color="#e55163"/><stop offset="0.400" stop-color="#de4968"/><stop offset="0.425" stop-color="#d5446d"/><stop offset="0.450" stop-color="#ca3e72"/><stop offset="0.475" stop-color="#c03a76"/><stop offset="0.500" stop-color="#b73779"/><stop offset="0.525" stop-color="#ab337c"/><stop offset="0.550" stop-color="#a1307e"/><stop offset="0.575" stop-color="#962c80"/><stop offset="0.600" stop-color="#8c2981"/><stop offset="0.625" stop-color="#832681"/><stop offset="0.650" stop-color="#782281"/><stop offset="0.675" stop-color="#6e1e81"/><stop offset="0.700" stop-color="#641a80"/><stop offset="0.725" stop-color="#5a167e"/><stop offset="0.750" stop-color="#51127c"/><stop offset="0.775" stop-color="#451077"/><stop offset="0.800" stop-color="#3b0f70"/><stop offset="0.825" stop-color="#2f1163"/><stop offset="0.850" stop-color="#251255"/><stop offset="0.875" stop-color="#1d1147"/><stop offset="0.900" stop-color="#140e36"/><stop offset="0.925" stop-color="#0d0a29"/><stop offset="0.950" stop-color="#06051a"/><stop offset="0.975" stop-color="#02020d"/><stop offset="1.000" stop-color="#000004"/></linearGradient></defs>
<rect x="269.5" y="363.4" width="13.2" height="234.9" fill="url(#cbar)" stroke="#333" stroke-width="1.1"/>
<line x1="282.7" y1="598.3" x2="286.3" y2="598.3" stroke="#333" stroke-width="1"/>
<line x1="282.7" y1="576.9" x2="284.8" y2="576.9" stroke="#333" stroke-width="0.9"/>
<line x1="282.7" y1="564.3" x2="284.8" y2="564.3" stroke="#333" stroke-width="0.9"/>
<line x1="282.7" y1="555.5" x2="284.8" y2="555.5" stroke="#333" stroke-width="0.9"/>
<line x1="282.7" y1="548.6" x2="284.8" y2="548.6" stroke="#333" stroke-width="0.9"/>
<line x1="282.7" y1="542.9" x2="284.8" y2="542.9" stroke="#333" stroke-width="0.9"/>
<line x1="282.7" y1="538.2" x2="284.8" y2="538.2" stroke="#333" stroke-width="0.9"/>
<line x1="282.7" y1="534.0" x2="284.8" y2="534.0" stroke="#333" stroke-width="0.9"/>
<line x1="282.7" y1="530.4" x2="284.8" y2="530.4" stroke="#333" stroke-width="0.9"/>
<text transform="matrix(0.24141,0,0,0.23711,288.78,607.27)" font-size="100" fill="#000" style="stroke:#fff;stroke-width:0.63px">10</text>
<rect x="313.8" y="594.20" width="11" height="1.1" fill="#000"/>
<text transform="matrix(0.18398,0,0,0.15628,326.82,598.95)" font-size="100" fill="#000" style="stroke:#fff;stroke-width:0.88px">3</text>
<line x1="282.7" y1="527.1" x2="286.3" y2="527.1" stroke="#333" stroke-width="1"/>
<line x1="282.7" y1="505.7" x2="284.8" y2="505.7" stroke="#333" stroke-width="0.9"/>
<line x1="282.7" y1="493.2" x2="284.8" y2="493.2" stroke="#333" stroke-width="0.9"/>
<line x1="282.7" y1="484.3" x2="284.8" y2="484.3" stroke="#333" stroke-width="0.9"/>
<line x1="282.7" y1="477.4" x2="284.8" y2="477.4" stroke="#333" stroke-width="0.9"/>
<line x1="282.7" y1="471.8" x2="284.8" y2="471.8" stroke="#333" stroke-width="0.9"/>
<line x1="282.7" y1="467.0" x2="284.8" y2="467.0" stroke="#333" stroke-width="0.9"/>
<line x1="282.7" y1="462.9" x2="284.8" y2="462.9" stroke="#333" stroke-width="0.9"/>
<line x1="282.7" y1="459.2" x2="284.8" y2="459.2" stroke="#333" stroke-width="0.9"/>
<text transform="matrix(0.24141,0,0,0.23711,288.78,536.11)" font-size="100" fill="#000" style="stroke:#fff;stroke-width:0.63px">10</text>
<rect x="313.8" y="523.04" width="11" height="1.1" fill="#000"/>
<text transform="matrix(0.18958,0,0,0.15858,326.87,527.94)" font-size="100" fill="#000" style="stroke:#fff;stroke-width:0.87px">2</text>
<line x1="282.7" y1="456.0" x2="286.3" y2="456.0" stroke="#333" stroke-width="1"/>
<line x1="282.7" y1="434.6" x2="284.8" y2="434.6" stroke="#333" stroke-width="0.9"/>
<line x1="282.7" y1="422.0" x2="284.8" y2="422.0" stroke="#333" stroke-width="0.9"/>
<line x1="282.7" y1="413.1" x2="284.8" y2="413.1" stroke="#333" stroke-width="0.9"/>
<line x1="282.7" y1="406.2" x2="284.8" y2="406.2" stroke="#333" stroke-width="0.9"/>
<line x1="282.7" y1="400.6" x2="284.8" y2="400.6" stroke="#333" stroke-width="0.9"/>
<line x1="282.7" y1="395.8" x2="284.8" y2="395.8" stroke="#333" stroke-width="0.9"/>
<line x1="282.7" y1="391.7" x2="284.8" y2="391.7" stroke="#333" stroke-width="0.9"/>
<line x1="282.7" y1="388.1" x2="284.8" y2="388.1" stroke="#333" stroke-width="0.9"/>
<text transform="matrix(0.24141,0,0,0.23711,288.78,464.95)" font-size="100" fill="#000" style="stroke:#fff;stroke-width:0.63px">10</text>
<rect x="313.8" y="451.88" width="11" height="1.1" fill="#000"/>
<text transform="matrix(0.17043,0,0,0.15905,326.20,456.78)" font-size="100" fill="#000" style="stroke:#fff;stroke-width:0.91px">1</text>
<line x1="282.7" y1="384.8" x2="286.3" y2="384.8" stroke="#333" stroke-width="1"/>
<line x1="282.7" y1="363.4" x2="284.8" y2="363.4" stroke="#333" stroke-width="0.9"/>
<text transform="matrix(0.24141,0,0,0.23711,288.78,393.79)" font-size="100" fill="#000" style="stroke:#fff;stroke-width:0.63px">10</text>
<text transform="matrix(0.17932,0,0,0.15708,312.02,385.37)" font-size="100" fill="#000" style="stroke:#fff;stroke-width:0.89px">0</text>
<polyline points="257.4,333.3 252.5,343.7 257.4,354.2" fill="none" stroke="#111" stroke-width="1.00"/>
<text transform="matrix(0.21048,0,0,0.17190,259.15,348.40)" font-size="100" font-style="italic" fill="#000" style="stroke:#fff;stroke-width:0.79px">n</text>
<polyline points="261.5,337.2 263.6,334.6 265.7,337.2" fill="none" stroke="#111" stroke-width="0.90"/>
<text transform="matrix(0.19425,0,0,0.14971,273.78,351.81)" font-size="100" font-style="italic" fill="#000" style="stroke:#fff;stroke-width:0.88px">j</text>
<text transform="matrix(0.15444,0,0,0.14406,279.61,352.38)" font-size="100" fill="#000" style="stroke:#fff;stroke-width:1.01px">,</text>
<line x1="288.2" y1="341.9" x2="288.2" y2="354" stroke="#111" stroke-width="0.9"/>
<polyline points="285.2,351.2 288.2,355.0 291.2,351.2" fill="none" stroke="#111" stroke-width="0.90"/>
<polyline points="295.3,333.3 299.9,343.7 295.3,354.2" fill="none" stroke="#111" stroke-width="1.00"/>
<text transform="matrix(0.24116,0,0,0.25145,366.24,339.85)" font-size="100" fill="#000" style="stroke:#fff;stroke-width:0.61px">(d)</text>
<path d="M455.8,461.9 C456.6,463.9 459.1,469.4 460.8,473.7 C462.5,478.0 464.4,483.0 466.2,487.7 C468.0,492.4 470.0,498.3 471.6,501.7 C473.2,505.1 474.5,506.4 475.9,507.8 C477.3,509.2 478.6,510.1 480.2,510.3 C481.8,510.6 483.8,509.7 485.6,509.3 C487.4,508.9 489.4,507.6 491.0,507.8 C492.6,508.0 493.7,508.5 495.3,510.5 C496.9,512.5 499.0,517.2 500.6,520.0 C502.2,522.8 503.7,525.8 505.0,527.5 C506.3,529.2 506.6,530.2 508.2,530.2 C509.8,530.2 512.9,527.3 514.7,527.6 C516.5,527.9 517.6,530.2 519.0,532.0 C520.4,533.8 522.2,537.1 523.3,538.3 C524.4,539.5 524.3,539.6 525.4,539.4 C526.5,539.1 528.3,536.4 529.7,536.8 C531.1,537.2 532.9,540.7 534.0,542.0 C535.1,543.3 535.2,544.8 536.2,544.8 C537.2,544.8 539.0,542.3 540.1,542.2 C541.2,542.1 542.0,543.4 542.8,544.3 C543.6,545.2 543.9,547.6 544.8,547.8 C545.7,548.0 546.9,545.2 548.0,545.4 C549.1,545.6 550.2,548.8 551.3,549.1 C552.4,549.4 553.5,547.1 554.5,547.3 C555.5,547.5 556.4,550.0 557.3,550.1 C558.2,550.2 559.3,548.3 560.1,548.2 C560.9,548.1 561.1,549.8 561.9,549.6 C562.7,549.5 564.1,547.6 564.9,547.3 C565.7,547.0 565.9,548.2 566.6,547.8 C567.3,547.4 568.2,545.9 569.1,545.0 C570.0,544.1 570.9,543.5 571.8,542.2 C572.7,540.9 573.7,539.4 574.6,537.4 C575.5,535.4 576.6,532.9 577.4,530.4 C578.2,527.9 578.8,524.9 579.4,522.1 C580.0,519.3 580.6,517.1 581.2,513.8 C581.8,510.4 582.3,508.4 582.9,502.0 C583.5,495.6 584.1,485.7 585.0,475.5 C585.9,465.3 587.1,452.4 588.0,440.8 C588.9,429.2 589.6,415.8 590.3,406.2 C590.9,396.6 591.5,388.6 591.9,383.5 C592.3,378.4 592.4,377.6 592.6,375.8 C592.8,374.1 593.0,373.0 593.2,373.0 C593.4,373.0 593.6,374.1 593.8,375.8 C594.0,377.6 594.1,378.4 594.5,383.5 C594.9,388.6 595.3,396.6 595.9,406.2 C596.5,415.8 597.3,429.2 598.2,440.8 C599.1,452.4 600.3,464.8 601.2,475.5 C602.1,486.2 603.0,497.4 603.7,505.0 C604.5,512.5 604.9,516.1 605.7,520.8 C606.5,525.5 607.6,529.8 608.5,533.2 C609.4,536.7 610.3,538.6 611.3,541.5 C612.3,544.4 613.5,548.0 614.7,550.8 C616.0,553.6 617.6,556.5 618.8,558.1 C619.9,559.7 620.5,559.1 621.6,560.1 C622.7,561.1 624.0,563.2 625.1,564.0 C626.2,564.8 627.0,564.2 628.5,565.0 C630.0,565.8 632.2,568.1 634.1,568.7 C636.0,569.3 637.8,568.3 639.6,568.7 C641.4,569.1 643.2,570.5 645.1,571.2 C647.0,571.9 648.6,572.5 650.7,573.0 C652.8,573.5 655.5,573.6 657.6,574.0 C659.7,574.4 661.2,574.8 663.1,575.1 C665.0,575.4 667.1,575.8 668.7,575.8 C670.3,575.8 672.1,575.2 672.8,575.1" fill="none" stroke="#3a7ab5" stroke-width="1.9" stroke-linejoin="round"/>
<path d="M455.8,461.9 C456.6,463.9 459.1,469.4 460.8,473.7 C462.5,478.0 464.4,483.0 466.2,487.7 C468.0,492.4 470.0,498.3 471.6,501.7 C473.2,505.1 474.5,506.4 475.9,507.8 C477.3,509.2 478.6,510.1 480.2,510.3 C481.8,510.6 483.8,509.6 485.6,509.3 C487.4,509.0 489.4,508.2 491.0,508.6 C492.6,509.0 493.7,509.3 495.3,511.4 C496.9,513.5 499.0,518.1 500.6,521.1 C502.2,524.1 503.7,527.5 505.0,529.3 C506.3,531.1 506.6,532.0 508.2,531.9 C509.8,531.8 512.9,528.5 514.7,528.7 C516.5,528.9 517.6,531.0 519.0,533.0 C520.4,535.0 522.2,538.9 523.3,540.5 C524.4,542.1 524.3,542.8 525.4,542.7 C526.5,542.6 528.3,539.6 529.7,540.1 C531.1,540.6 532.7,544.2 534.0,545.9 C535.3,547.6 536.3,549.9 537.3,550.2 C538.3,550.6 539.3,547.8 540.1,548.0 C540.9,548.2 541.4,550.0 542.1,551.2 C542.8,552.4 543.3,555.0 544.2,555.4 C545.1,555.8 546.5,552.7 547.6,553.3 C548.8,553.9 550.1,558.0 551.1,558.8 C552.1,559.6 553.1,558.2 553.8,558.1 C554.4,558.0 554.4,557.5 555.0,558.3 C555.6,559.1 556.5,562.2 557.2,562.7 C557.9,563.2 558.7,561.1 559.4,561.6 C560.1,562.1 560.9,565.5 561.6,566.0 C562.3,566.5 563.1,564.5 563.8,564.9 C564.5,565.3 565.3,568.0 566.0,568.5 C566.7,569.0 567.2,567.4 567.8,567.8 C568.4,568.2 569.0,570.7 569.6,571.1 C570.2,571.5 570.8,570.0 571.4,570.3 C572.0,570.6 572.7,572.5 573.2,572.9 C573.7,573.3 573.8,572.3 574.3,572.6 C574.8,572.9 575.5,574.1 576.2,574.7 C576.9,575.3 577.5,575.7 578.4,576.2 C579.2,576.8 580.3,577.5 581.3,578.0 C582.3,578.5 583.2,578.9 584.2,579.5 C585.2,580.1 586.2,580.9 587.1,581.6 C588.0,582.3 588.6,582.9 589.3,583.8 C590.0,584.7 590.9,586.2 591.5,587.1 C592.1,588.0 592.5,589.0 593.1,589.0 C593.7,589.0 594.2,587.8 595.1,586.8 C596.0,585.8 597.7,583.9 598.8,583.1 C599.9,582.3 600.7,582.3 601.7,582.0 C602.7,581.7 603.3,581.7 605.0,581.3 C606.7,580.9 609.9,580.0 612.0,579.6 C614.1,579.2 615.9,579.2 617.5,578.8 C619.1,578.4 620.2,577.5 621.6,577.4 C623.0,577.2 624.4,578.1 625.8,577.9 C627.2,577.7 628.5,576.3 629.9,576.1 C631.3,575.9 632.2,577.0 634.1,576.7 C636.0,576.4 638.7,574.6 641.0,574.3 C643.3,574.0 645.6,575.1 647.9,575.1 C650.2,575.1 652.3,574.3 654.8,574.0 C657.3,573.7 660.8,573.6 663.1,573.3 C665.4,572.9 667.1,572.4 668.7,571.9 C670.3,571.4 672.1,570.4 672.8,570.1" fill="none" stroke="#f5822a" stroke-width="1.9" stroke-linejoin="round"/>
<rect x="445.4" y="362.2" width="237.9" height="237.3" fill="none" stroke="#3a3a3a" stroke-width="1.1"/>
<line x1="441.6" y1="362.4" x2="445.4" y2="362.4" stroke="#3a3a3a" stroke-width="1"/>
<line x1="441.6" y1="516.3" x2="445.4" y2="516.3" stroke="#3a3a3a" stroke-width="1"/>
<line x1="443.2" y1="596.8" x2="445.4" y2="596.8" stroke="#3a3a3a" stroke-width="0.9"/>
<line x1="443.2" y1="577.5" x2="445.4" y2="577.5" stroke="#3a3a3a" stroke-width="0.9"/>
<line x1="443.2" y1="562.6" x2="445.4" y2="562.6" stroke="#3a3a3a" stroke-width="0.9"/>
<line x1="443.2" y1="550.4" x2="445.4" y2="550.4" stroke="#3a3a3a" stroke-width="0.9"/>
<line x1="443.2" y1="540.1" x2="445.4" y2="540.1" stroke="#3a3a3a" stroke-width="0.9"/>
<line x1="443.2" y1="531.2" x2="445.4" y2="531.2" stroke="#3a3a3a" stroke-width="0.9"/>
<line x1="443.2" y1="523.3" x2="445.4" y2="523.3" stroke="#3a3a3a" stroke-width="0.9"/>
<line x1="443.2" y1="470.0" x2="445.4" y2="470.0" stroke="#3a3a3a" stroke-width="0.9"/>
<line x1="443.2" y1="442.9" x2="445.4" y2="442.9" stroke="#3a3a3a" stroke-width="0.9"/>
<line x1="443.2" y1="423.6" x2="445.4" y2="423.6" stroke="#3a3a3a" stroke-width="0.9"/>
<line x1="443.2" y1="408.7" x2="445.4" y2="408.7" stroke="#3a3a3a" stroke-width="0.9"/>
<line x1="443.2" y1="396.5" x2="445.4" y2="396.5" stroke="#3a3a3a" stroke-width="0.9"/>
<line x1="443.2" y1="386.2" x2="445.4" y2="386.2" stroke="#3a3a3a" stroke-width="0.9"/>
<line x1="443.2" y1="377.3" x2="445.4" y2="377.3" stroke="#3a3a3a" stroke-width="0.9"/>
<line x1="443.2" y1="369.4" x2="445.4" y2="369.4" stroke="#3a3a3a" stroke-width="0.9"/>
<text transform="matrix(0.22196,0,0,0.24155,401.85,375.56)" font-size="100" fill="#000" style="stroke:#fff;stroke-width:0.65px">10</text><rect x="424.1" y="355.85" width="8.2" height="1.1" fill="#000"/><text transform="matrix(0.10510,0,0,0.16057,433.98,361.70)" font-size="100" fill="#000" style="stroke:#fff;stroke-width:1.15px">1</text>
<text transform="matrix(0.22196,0,0,0.23859,400.75,528.97)" font-size="100" fill="#000" style="stroke:#fff;stroke-width:0.65px">10</text><rect x="423.2" y="509.20" width="8.0" height="1.1" fill="#000"/><text transform="matrix(0.18210,0,0,0.16009,430.80,515.60)" font-size="100" fill="#000" style="stroke:#fff;stroke-width:0.88px">2</text>
<line x1="456.0" y1="599.5" x2="456.0" y2="603.3" stroke="#3a3a3a" stroke-width="1"/>
<text x="456.0" y="623.8" font-size="22" text-anchor="middle" class="tk">0</text>
<line x1="523.6" y1="599.5" x2="523.6" y2="603.3" stroke="#3a3a3a" stroke-width="1"/>
<text x="523.6" y="623.8" font-size="22" text-anchor="middle" class="tk">5</text>
<line x1="591.3" y1="599.5" x2="591.3" y2="603.3" stroke="#3a3a3a" stroke-width="1"/>
<text x="591.3" y="623.8" font-size="22" text-anchor="middle" class="tk">10</text>
<line x1="659.0" y1="599.5" x2="659.0" y2="603.3" stroke="#3a3a3a" stroke-width="1"/>
<text x="659.0" y="623.8" font-size="22" text-anchor="middle" class="tk">15</text>
<text transform="matrix(0.25417,0,0,0.26785,539.07,643.24)" font-size="100" font-style="italic" fill="#000" style="stroke:#fff;stroke-width:0.57px">U</text>
<text transform="matrix(0.35633,0,0,0.36027,559.20,648.15)" font-size="100" fill="#000" style="stroke:#fff;stroke-width:0.42px">/</text>
<text transform="matrix(0.28005,0,0,0.26785,571.48,643.24)" font-size="100" font-style="italic" fill="#000" style="stroke:#fff;stroke-width:0.55px">J</text>
<line x1="454.3" y1="400.1" x2="504.2" y2="400.1" stroke="#3a7ab5" stroke-width="1.9"/>
<line x1="454.3" y1="428.2" x2="504.2" y2="428.2" stroke="#f5822a" stroke-width="1.9"/>
<path d="M509.5,412.4 H534.6 V388.6 L574.3,412.4 H578.9" fill="none" stroke="#555" stroke-width="1.2"/>
<path d="M509.5,440.5 H514 L554,416.4 V440.5 H578.9" fill="none" stroke="#555" stroke-width="1.2"/>
<line x1="517.6" y1="401.6" x2="524.5" y2="401.6" stroke="#555" stroke-width="1"/><path d="M527.5,401.6 L523.5,399.6 L523.5,403.6 Z" fill="#555"/>
<line x1="517.6" y1="429.1" x2="524.5" y2="429.1" stroke="#555" stroke-width="1"/><path d="M527.5,429.1 L523.5,427.1 L523.5,431.1 Z" fill="#555"/>
<text transform="matrix(0,-0.12214,0.14996,0,382.10,542.07)" font-size="100" fill="#000" style="stroke:#fff;stroke-width:1.11px">1</text>
<line x1="385.2" y1="530.6" x2="385.2" y2="545.7" stroke="#111" stroke-width="0.9"/>
<text transform="matrix(0,-0.20371,0.17105,0,398.90,545.33)" font-size="100" font-style="italic" fill="#000" style="stroke:#fff;stroke-width:0.80px">T</text>
<path d="M374.9,512.2 C374.6,512.1 373.7,511.5 373.3,511.6 C372.9,511.7 372.6,512.5 372.6,512.9 C372.6,513.3 372.9,513.6 373.1,514.0 C373.4,514.4 373.4,515.1 374.1,515.5 C374.9,515.9 376.2,516.0 377.6,516.2 C379.0,516.4 381.0,516.7 382.6,516.9 C384.2,517.1 385.5,517.4 387.1,517.6 C388.7,517.8 390.6,518.0 392.1,518.3 C393.6,518.6 395.3,518.8 396.3,519.2 C397.3,519.6 397.7,520.1 398.0,520.6 C398.3,521.1 398.1,521.5 397.9,521.9 C397.8,522.3 397.5,522.7 397.1,522.9 C396.8,523.1 396.0,522.9 395.8,522.9" fill="none" stroke="#111" stroke-width="1.05" stroke-linecap="round"/><path d="M377.1,516.1 C378.0,516.2 380.9,516.7 382.6,516.9 C384.3,517.2 385.6,517.4 387.1,517.6 C388.7,517.8 391.1,518.2 391.9,518.3" fill="none" stroke="#111" stroke-width="1.7" stroke-linecap="round"/><circle cx="374.7" cy="512.3" r="1.25" fill="#111"/><circle cx="395.9" cy="522.7" r="1.25" fill="#111"/>
<text transform="matrix(0,-0.22008,0.17868,0,379.10,511.44)" font-size="100" font-style="italic" fill="#000" style="stroke:#fff;stroke-width:0.76px">T</text>
<text transform="matrix(0,-0.17224,0.16597,0,399.14,514.46)" font-size="100" fill="#000" style="stroke:#fff;stroke-width:0.89px">0</text>
<polyline points="374.5,443.4 385.1,439.3 396.1,443.4" fill="none" stroke="#111" stroke-width="1.00" stroke-linejoin="miter"/><line x1="383.7" y1="450.8" x2="395.8" y2="450.8" stroke="#111" stroke-width="0.9"/><polyline points="392.9,448.0 396.6,450.8 392.9,453.6" fill="none" stroke="#111" stroke-width="0.90" stroke-linejoin="miter"/><text transform="matrix(0,-0.20144,0.17132,0,394.47,459.17)" font-size="100" fill="#000" style="stroke:#fff;stroke-width:0.81px">,</text><text transform="matrix(0,-0.19404,0.14203,0,393.40,470.87)" font-size="100" font-style="italic" fill="#000" style="stroke:#fff;stroke-width:0.90px">L</text><text transform="matrix(0,-0.23885,0.16554,0,390.10,484.85)" font-size="100" font-style="italic" fill="#000" style="stroke:#fff;stroke-width:0.75px">n</text><polyline points="379.5,476.2 376.0,478.8 379.5,481.3" fill="none" stroke="#111" stroke-width="0.90" stroke-linejoin="miter"/><polyline points="374.5,486.4 385.1,490.5 396.1,486.4" fill="none" stroke="#111" stroke-width="1.00" stroke-linejoin="miter"/>
<text transform="matrix(0,-0.24991,0.19457,0,390.90,436.26)" font-size="100" font-style="italic" fill="#000" style="stroke:#fff;stroke-width:0.68px">d</text>
<text transform="matrix(0,-0.20874,0.19380,0,390.91,424.02)" font-size="100" font-style="italic" fill="#000" style="stroke:#fff;stroke-width:0.75px">t</text></svg></body></html>
